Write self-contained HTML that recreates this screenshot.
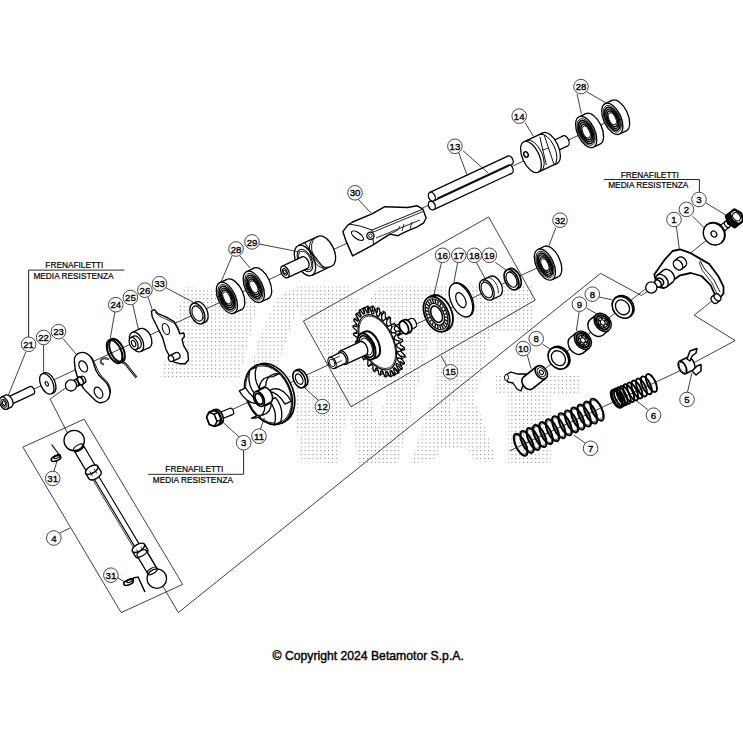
<!DOCTYPE html>
<html><head><meta charset="utf-8"><style>
html,body{margin:0;padding:0;background:#fff;width:743px;height:743px;overflow:hidden}
svg{display:block}
text{font-family:"Liberation Sans",sans-serif;fill:#000}
</style></head><body>
<svg width="743" height="743" viewBox="0 0 743 743">
<defs><pattern id="dots" x="0.45" y="1.65" width="3.9" height="3.9" patternUnits="userSpaceOnUse"><rect x="0" y="0" width="1.1" height="1.1" fill="#888"/></pattern></defs>
<path d="M185,286 L259,298 L239,379 L160,379Z M297,286.5 L440,286.5 L532,286 L532,333 L490,333 L475,400 L497,462 L475,462 L466,449 L440,449 L435,462 L411,463 L398,463 L359,463 L348.6,411 L336.5,463 L300.9,462 L292.8,395 L252,365 L258,341 L276,299Z M496,376 L580,376 L580,393 L551,393 L551,463 L508,463 L508,393 L496,393Z M349.7,286.5 L378.8,286.5 L362,312Z M297,309 L338,375 L275,375Z M367,388 L388,388 L378,426Z M431.8,333 L437,333 L435.8,383 L411,463 L398,463 L415.6,395Z M450,402 L458,402 L454,423Z" fill="url(#dots)" fill-rule="evenodd" stroke="none"/>
<path d="M2.0,404.0 L620.0,116.0" fill="none" stroke="#111" stroke-width="0.8"/>
<path d="M212.0,419.0 L552.0,261.0" fill="none" stroke="#111" stroke-width="0.8"/>
<path d="M509.7,450.8 L690.0,366.0" fill="none" stroke="#111" stroke-width="0.8"/>
<path d="M541.0,372.0 L737.0,216.0" fill="none" stroke="#111" stroke-width="0.8"/>
<path d="M303.4,321.1 L488.7,217.0 L535.2,300.1 L351.0,406.7 L303.4,321.1" fill="none" stroke="#111" stroke-width="0.8"/>
<path d="M22.9,447.1 L84.1,419.2 L182.7,584.4 L121.1,612.6 L22.9,447.1" fill="none" stroke="#111" stroke-width="0.8"/>
<path d="M67.0,387.0 L50.0,399.0 L67.0,432.0" fill="none" stroke="#111" stroke-width="0.8"/>
<path d="M162.6,585.6 L178.3,612.6 L600.6,273.4 L641.3,295.5 L648.0,291.0" fill="none" stroke="#111" stroke-width="0.8"/>
<path d="M712.7,300.4 L694.2,315.2 L735.2,340.6 L691.9,363.8" fill="none" stroke="#111" stroke-width="0.8"/>
<ellipse cx="619.1" cy="115.6" rx="8.7" ry="16.8" transform="rotate(-25 619.1 115.6)" fill="#fff" stroke="#000" stroke-width="1.3" />
<path d="M619.4,134.0 L626.2,130.9 L612.0,100.4 L605.2,103.6Z" fill="#fff" stroke="none"/>
<path d="M619.4,134.0 L626.2,130.9 M612.0,100.4 L605.2,103.6" fill="none" stroke="#000" stroke-width="1.3"/>
<ellipse cx="612.3" cy="118.8" rx="8.7" ry="16.8" transform="rotate(-25 612.3 118.8)" fill="#fff" stroke="#000" stroke-width="1.3" />
<ellipse cx="612.3" cy="118.8" rx="7.5" ry="14.4" transform="rotate(-25 612.3 118.8)" fill="#fff" stroke="#000" stroke-width="0.8" />
<ellipse cx="612.3" cy="118.8" rx="6.5" ry="12.4" transform="rotate(-25 612.3 118.8)" fill="#fff" stroke="#000" stroke-width="1.5" />
<ellipse cx="612.3" cy="118.8" rx="5.4" ry="10.4" transform="rotate(-25 612.3 118.8)" fill="#fff" stroke="#000" stroke-width="1.3" />
<ellipse cx="612.3" cy="118.8" rx="4.4" ry="8.4" transform="rotate(-25 612.3 118.8)" fill="#fff" stroke="#000" stroke-width="1.5" />
<ellipse cx="612.3" cy="118.8" rx="3.3" ry="6.4" transform="rotate(-25 612.3 118.8)" fill="#fff" stroke="#000" stroke-width="1.0" />
<ellipse cx="593.0" cy="128.8" rx="8.7" ry="16.8" transform="rotate(-25 593.0 128.8)" fill="#fff" stroke="#000" stroke-width="1.3" />
<path d="M593.3,147.2 L600.1,144.1 L585.9,113.6 L579.1,116.8Z" fill="#fff" stroke="none"/>
<path d="M593.3,147.2 L600.1,144.1 M585.9,113.6 L579.1,116.8" fill="none" stroke="#000" stroke-width="1.3"/>
<ellipse cx="586.2" cy="132.0" rx="8.7" ry="16.8" transform="rotate(-25 586.2 132.0)" fill="#fff" stroke="#000" stroke-width="1.3" />
<ellipse cx="586.2" cy="132.0" rx="7.5" ry="14.4" transform="rotate(-25 586.2 132.0)" fill="#fff" stroke="#000" stroke-width="0.8" />
<ellipse cx="586.2" cy="132.0" rx="6.5" ry="12.4" transform="rotate(-25 586.2 132.0)" fill="#fff" stroke="#000" stroke-width="1.5" />
<ellipse cx="586.2" cy="132.0" rx="5.4" ry="10.4" transform="rotate(-25 586.2 132.0)" fill="#fff" stroke="#000" stroke-width="1.3" />
<ellipse cx="586.2" cy="132.0" rx="4.4" ry="8.4" transform="rotate(-25 586.2 132.0)" fill="#fff" stroke="#000" stroke-width="1.5" />
<ellipse cx="586.2" cy="132.0" rx="3.3" ry="6.4" transform="rotate(-25 586.2 132.0)" fill="#fff" stroke="#000" stroke-width="1.0" />
<ellipse cx="565.4" cy="140.9" rx="3.3" ry="5.5" transform="rotate(-25 565.4 140.9)" fill="#fff" stroke="#000" stroke-width="1.3" />
<path d="M551.5,153.5 L567.8,145.9 L563.1,136.0 L546.8,143.6Z" fill="#fff" stroke="none"/>
<path d="M551.5,153.5 L567.8,145.9 M563.1,136.0 L546.8,143.6" fill="none" stroke="#000" stroke-width="1.3"/>
<ellipse cx="549.1" cy="148.5" rx="3.3" ry="5.5" transform="rotate(-25 549.1 148.5)" fill="#fff" stroke="#000" stroke-width="1.3" />
<ellipse cx="550.0" cy="148.1" rx="8.4" ry="16.8" transform="rotate(-25 550.0 148.1)" fill="#fff" stroke="#000" stroke-width="1.3" />
<path d="M538.1,172.2 L557.1,163.4 L542.9,132.9 L523.9,141.8Z" fill="#fff" stroke="none"/>
<path d="M538.1,172.2 L557.1,163.4 M542.9,132.9 L523.9,141.8" fill="none" stroke="#000" stroke-width="1.3"/>
<ellipse cx="531.0" cy="157.0" rx="8.4" ry="16.8" transform="rotate(-25 531.0 157.0)" fill="#fff" stroke="#000" stroke-width="1.3" />
<ellipse cx="526.0" cy="154.5" rx="2.1" ry="2.8" transform="rotate(-25 526.0 154.5)" fill="#fff" stroke="#000" stroke-width="1.4" />
<path d="M527.1,140.3 A8.4,16.8 -25 0 1 541.3,170.7" fill="none" stroke="#000" stroke-width="1.0"/>
<path d="M539.8,134.4 A8.4,16.8 -25 0 1 554.0,164.8" fill="none" stroke="#000" stroke-width="1.0"/>
<path d="M539.8,136.9 L546.3,164.9" fill="none" stroke="#111" stroke-width="1.0"/>
<path d="M544.1,134.8 L553.8,163.8" fill="none" stroke="#111" stroke-width="1.0"/>
<path d="M542.0,150.0 L549.0,148.0" fill="none" stroke="#111" stroke-width="0.8"/>
<ellipse cx="509.7" cy="169.2" rx="3.2" ry="4.6" transform="rotate(-25 509.7 169.2)" fill="#fff" stroke="#000" stroke-width="1.3" />
<path d="M433.7,209.7 L511.7,173.3 L507.8,165.0 L429.9,201.3Z" fill="#fff" stroke="none"/>
<path d="M433.7,209.7 L511.7,173.3 M507.8,165.0 L429.9,201.3" fill="none" stroke="#000" stroke-width="1.3"/>
<ellipse cx="431.8" cy="205.5" rx="3.2" ry="4.6" transform="rotate(-25 431.8 205.5)" fill="#fff" stroke="#000" stroke-width="1.3" />
<ellipse cx="509.7" cy="160.3" rx="3.2" ry="4.6" transform="rotate(-25 509.7 160.3)" fill="#fff" stroke="#000" stroke-width="1.3" />
<path d="M433.7,200.8 L511.7,164.4 L507.8,156.1 L429.9,192.4Z" fill="#fff" stroke="none"/>
<path d="M433.7,200.8 L511.7,164.4 M507.8,156.1 L429.9,192.4" fill="none" stroke="#000" stroke-width="1.3"/>
<ellipse cx="431.8" cy="196.6" rx="3.2" ry="4.6" transform="rotate(-25 431.8 196.6)" fill="#fff" stroke="#000" stroke-width="1.3" />
<path d="M437.2,198.5 L509.7,164.7" fill="none" stroke="#111" stroke-width="1.6"/>
<path d="M342.9,231.7 L347.8,225.2 L352.6,222.0 L372.0,213.9 L384.9,206.7 L407.5,207.5 L417.2,205.8 L422.9,209.1 L426.1,218.0 L423.7,222.8 L417.2,226.8 L405.9,231.7 L397.9,235.7 L389.8,234.1 L378.5,241.4 L373.6,244.6 L352.6,255.9 L346.2,241.4Z" fill="#fff" stroke="#000" stroke-width="1.4" stroke-linejoin="round"/>
<path d="M349.0,224.0 L360.0,226.0 L372.0,230.0 L422.0,209.5" fill="none" stroke="#111" stroke-width="1.0"/>
<path d="M372.0,232.5 L423.0,211.5" fill="none" stroke="#111" stroke-width="0.9"/>
<path d="M372.0,230.0 L373.6,244.6" fill="none" stroke="#111" stroke-width="1.0"/>
<path d="M376.0,238.0 L420.0,220.0" fill="none" stroke="#111" stroke-width="0.9"/>
<path d="M390.0,234.0 L398.0,230.0 L400.0,226.0" fill="none" stroke="#111" stroke-width="0.9"/>
<path d="M402.0,231.0 L404.0,224.0" fill="none" stroke="#111" stroke-width="0.9"/>
<path d="M410.0,229.0 L412.0,222.0" fill="none" stroke="#111" stroke-width="0.9"/>
<ellipse cx="357.5" cy="235.7" rx="7" ry="3" transform="rotate(35 357.5 235.7)" fill="#fff" stroke="#000" stroke-width="1.2"/>
<circle cx="370.4" cy="235.7" r="3.6" fill="#fff" stroke="#000" stroke-width="1.3"/>
<circle cx="370.4" cy="235.7" r="1.8" fill="none" stroke="#000" stroke-width="0.9"/>
<ellipse cx="324.9" cy="251.2" rx="9.0" ry="16.3" transform="rotate(-25 324.9 251.2)" fill="#fff" stroke="#000" stroke-width="1.3" />
<path d="M311.9,275.3 L331.8,266.0 L318.1,236.4 L298.1,245.7Z" fill="#fff" stroke="none"/>
<path d="M311.9,275.3 L331.8,266.0 M318.1,236.4 L298.1,245.7" fill="none" stroke="#000" stroke-width="1.3"/>
<ellipse cx="305.0" cy="260.5" rx="9.0" ry="16.3" transform="rotate(-25 305.0 260.5)" fill="#fff" stroke="#000" stroke-width="1.3" />
<ellipse cx="305.0" cy="260.5" rx="6.6" ry="12.0" transform="rotate(-25 305.0 260.5)" fill="#fff" stroke="#000" stroke-width="1.0" />
<ellipse cx="305.0" cy="260.5" rx="5.5" ry="10.0" transform="rotate(-25 305.0 260.5)" fill="#fff" stroke="#000" stroke-width="0.8" />
<path d="M313.6,238.8 A9.6,16 -25 0 0 327.2,267.8" fill="none" stroke="#000" stroke-width="0.9"/>
<path d="M315.5,238.0 A9.6,16 -25 0 0 329.0,267.0" fill="none" stroke="#000" stroke-width="0.9"/>
<path d="M304.6,243.0 L324.5,269.1" fill="none" stroke="#111" stroke-width="1.1"/>
<ellipse cx="304.8" cy="262.6" rx="3.8" ry="6.3" transform="rotate(-25 304.8 262.6)" fill="#fff" stroke="#000" stroke-width="1.3" />
<path d="M287.6,277.6 L307.5,268.3 L302.2,256.9 L282.2,266.2Z" fill="#fff" stroke="none"/>
<path d="M287.6,277.6 L307.5,268.3 M302.2,256.9 L282.2,266.2" fill="none" stroke="#000" stroke-width="1.3"/>
<ellipse cx="284.9" cy="271.9" rx="3.8" ry="6.3" transform="rotate(-25 284.9 271.9)" fill="#fff" stroke="#000" stroke-width="1.3" />
<ellipse cx="284.9" cy="271.9" rx="2.1" ry="3.5" transform="rotate(-25 284.9 271.9)" fill="#fff" stroke="#000" stroke-width="1.1" />
<ellipse cx="284.9" cy="271.9" rx="1.1" ry="1.8" transform="rotate(-25 284.9 271.9)" fill="#fff" stroke="#000" stroke-width="0.9" />
<ellipse cx="261.1" cy="283.4" rx="8.7" ry="16.8" transform="rotate(-25 261.1 283.4)" fill="#fff" stroke="#000" stroke-width="1.3" />
<path d="M260.9,302.0 L268.2,298.6 L254.0,268.2 L246.7,271.6Z" fill="#fff" stroke="none"/>
<path d="M260.9,302.0 L268.2,298.6 M254.0,268.2 L246.7,271.6" fill="none" stroke="#000" stroke-width="1.3"/>
<ellipse cx="253.8" cy="286.8" rx="8.7" ry="16.8" transform="rotate(-25 253.8 286.8)" fill="#fff" stroke="#000" stroke-width="1.3" />
<ellipse cx="253.8" cy="286.8" rx="7.5" ry="14.4" transform="rotate(-25 253.8 286.8)" fill="#fff" stroke="#000" stroke-width="0.8" />
<ellipse cx="253.8" cy="286.8" rx="6.5" ry="12.4" transform="rotate(-25 253.8 286.8)" fill="#fff" stroke="#000" stroke-width="1.5" />
<ellipse cx="253.8" cy="286.8" rx="5.4" ry="10.4" transform="rotate(-25 253.8 286.8)" fill="#fff" stroke="#000" stroke-width="1.3" />
<ellipse cx="253.8" cy="286.8" rx="4.4" ry="8.4" transform="rotate(-25 253.8 286.8)" fill="#fff" stroke="#000" stroke-width="1.5" />
<ellipse cx="253.8" cy="286.8" rx="3.3" ry="6.4" transform="rotate(-25 253.8 286.8)" fill="#fff" stroke="#000" stroke-width="1.0" />
<ellipse cx="234.2" cy="294.5" rx="8.7" ry="16.8" transform="rotate(-25 234.2 294.5)" fill="#fff" stroke="#000" stroke-width="1.3" />
<path d="M234.0,313.1 L241.3,309.7 L227.1,279.3 L219.8,282.7Z" fill="#fff" stroke="none"/>
<path d="M234.0,313.1 L241.3,309.7 M227.1,279.3 L219.8,282.7" fill="none" stroke="#000" stroke-width="1.3"/>
<ellipse cx="226.9" cy="297.9" rx="8.7" ry="16.8" transform="rotate(-25 226.9 297.9)" fill="#fff" stroke="#000" stroke-width="1.3" />
<ellipse cx="226.9" cy="297.9" rx="7.5" ry="14.4" transform="rotate(-25 226.9 297.9)" fill="#fff" stroke="#000" stroke-width="0.8" />
<ellipse cx="226.9" cy="297.9" rx="6.5" ry="12.4" transform="rotate(-25 226.9 297.9)" fill="#fff" stroke="#000" stroke-width="1.5" />
<ellipse cx="226.9" cy="297.9" rx="5.4" ry="10.4" transform="rotate(-25 226.9 297.9)" fill="#fff" stroke="#000" stroke-width="1.3" />
<ellipse cx="226.9" cy="297.9" rx="4.4" ry="8.4" transform="rotate(-25 226.9 297.9)" fill="#fff" stroke="#000" stroke-width="1.5" />
<ellipse cx="226.9" cy="297.9" rx="3.3" ry="6.4" transform="rotate(-25 226.9 297.9)" fill="#fff" stroke="#000" stroke-width="1.0" />
<ellipse cx="200.6" cy="312.1" rx="6.6" ry="11.0" transform="rotate(-25 200.6 312.1)" fill="#fff" stroke="#000" stroke-width="1.3" />
<path d="M202.0,323.6 L205.2,322.1 L195.9,302.2 L192.8,303.6Z" fill="#fff" stroke="none"/>
<path d="M202.0,323.6 L205.2,322.1 M195.9,302.2 L192.8,303.6" fill="none" stroke="#000" stroke-width="1.3"/>
<ellipse cx="197.4" cy="313.6" rx="6.6" ry="11.0" transform="rotate(-25 197.4 313.6)" fill="#fff" stroke="#000" stroke-width="1.3" />
<ellipse cx="197.4" cy="313.6" rx="4.8" ry="8.0" transform="rotate(-25 197.4 313.6)" fill="#fff" stroke="#000" stroke-width="1.1" />
<path d="M194.0,306.3 A4.8,8 -25 0 1 203.3,319.1" fill="none" stroke="#000" stroke-width="0.8"/>
<path d="M151.4,311.2 L154.6,309.6 L157.9,313.6 L165.9,316.8 L174.0,321.7 L178.0,328.2 L179.7,333.8 L183.7,333.0 L184.5,336.2 L182.1,339.5 L183.7,345.9 L187.7,352.4 L188.5,359.7 L185.3,363.7 L179.7,363.7 L174.0,362.1 L170.0,357.2 L165.9,349.2 L162.7,337.9 L157.0,326.5 L152.2,316.8Z" fill="#fff" stroke="#000" stroke-width="1.4" stroke-linejoin="round"/>
<path d="M155.0,312.0 L159.0,316.0 L168.0,320.0 L175.0,324.0 L179.5,333.0" fill="none" stroke="#111" stroke-width="0.8"/>
<ellipse cx="165.9" cy="329" rx="3.2" ry="5.8" transform="rotate(-20 165.9 329)" fill="#fff" stroke="#000" stroke-width="1.1"/>
<ellipse cx="177.3" cy="355.5" rx="2.6" ry="3.2" transform="rotate(-25 177.3 355.5)" fill="#fff" stroke="#000" stroke-width="1.2" />
<path d="M172.4,361.4 L178.7,358.4 L176.0,352.6 L169.6,355.6Z" fill="#fff" stroke="none"/>
<path d="M172.4,361.4 L178.7,358.4 M176.0,352.6 L169.6,355.6" fill="none" stroke="#000" stroke-width="1.2"/>
<ellipse cx="171.0" cy="358.5" rx="2.6" ry="3.2" transform="rotate(-25 171.0 358.5)" fill="#fff" stroke="#000" stroke-width="1.2" />
<ellipse cx="144.7" cy="338.2" rx="6.3" ry="10.5" transform="rotate(-25 144.7 338.2)" fill="#fff" stroke="#000" stroke-width="1.3" />
<path d="M140.9,351.5 L149.1,347.7 L140.2,328.7 L132.1,332.5Z" fill="#fff" stroke="none"/>
<path d="M140.9,351.5 L149.1,347.7 M140.2,328.7 L132.1,332.5" fill="none" stroke="#000" stroke-width="1.3"/>
<ellipse cx="136.5" cy="342.0" rx="6.3" ry="10.5" transform="rotate(-25 136.5 342.0)" fill="#fff" stroke="#000" stroke-width="1.3" />
<ellipse cx="136.8" cy="342.0" rx="3.9" ry="6.5" transform="rotate(-25 136.8 342.0)" fill="#fff" stroke="#000" stroke-width="1.2" />
<path d="M136.3,349.4 L139.5,347.9 L134.0,336.1 L130.9,337.6Z" fill="#fff" stroke="none"/>
<path d="M136.3,349.4 L139.5,347.9 M134.0,336.1 L130.9,337.6" fill="none" stroke="#000" stroke-width="1.2"/>
<ellipse cx="133.6" cy="343.5" rx="3.9" ry="6.5" transform="rotate(-25 133.6 343.5)" fill="#fff" stroke="#000" stroke-width="1.2" />
<ellipse cx="133.6" cy="343.5" rx="1.9" ry="3.2" transform="rotate(-25 133.6 343.5)" fill="#fff" stroke="#000" stroke-width="1.1" />
<path d="M109,359.5 C106,358 103,357.5 101,360 C100,362 101,364 104,364.5" fill="none" stroke="#000" stroke-width="1.8"/>
<path d="M109,359.5 C106,358 103,357.5 101,360 C100,362 101,364 104,364.5" fill="none" stroke="#fff" stroke-width="0.5"/>
<path d="M121.5,362.5 C124,362 126,364 128,367 L136.5,377.5" fill="none" stroke="#000" stroke-width="2.3"/>
<path d="M121.5,362.5 C124,362 126,364 128,367 L136.5,377.5" fill="none" stroke="#fff" stroke-width="0.6"/>
<ellipse cx="114.6" cy="351.5" rx="6.7" ry="12.8" transform="rotate(-25 114.6 351.5)" fill="none" stroke="#000" stroke-width="1.5" />
<ellipse cx="114.6" cy="351.5" rx="6.0" ry="11.6" transform="rotate(-25 114.6 351.5)" fill="none" stroke="#000" stroke-width="0.9" />
<ellipse cx="117.0" cy="350.4" rx="6.7" ry="12.8" transform="rotate(-25 117.0 350.4)" fill="none" stroke="#000" stroke-width="1.5" />
<ellipse cx="117.0" cy="350.4" rx="6.0" ry="11.6" transform="rotate(-25 117.0 350.4)" fill="none" stroke="#000" stroke-width="0.9" />
<path d="M81.9,352.4 C76,353 73.5,357 74.4,362 L75.3,369.5 L77.5,377.4 L83.6,388.7 L94.1,399.2 C97,402 99,403 101.1,402.7 C106,402 109.5,399 109.9,394 C110.5,390 108,384 105.5,381.7 L98.5,374.7 C96.5,372 95.5,370 95,367.7 L92.4,359.9 C91,356 86,352 81.9,352.4Z" fill="#fff" stroke="#000" stroke-width="1.4"/>
<path d="M86.5,353.6 C90,355 92.5,358 94,361.5 L97,368.5 C98,371.5 100,374 102,376.5 L106.5,381 C109,384 111,388 110.5,393" fill="none" stroke="#000" stroke-width="0.9"/>
<ellipse cx="83.2" cy="366.4" rx="3.8" ry="6" transform="rotate(-28 83.2 366.4)" fill="#fff" stroke="#000" stroke-width="1.2"/>
<ellipse cx="98.5" cy="392.7" rx="3.8" ry="6" transform="rotate(-28 98.5 392.7)" fill="#fff" stroke="#000" stroke-width="1.2"/>
<ellipse cx="83.3" cy="379.6" rx="2.2" ry="3.6" transform="rotate(-25 83.3 379.6)" fill="#fff" stroke="#000" stroke-width="1.2" />
<path d="M77.5,386.3 L84.8,382.9 L81.7,376.4 L74.5,379.7Z" fill="#fff" stroke="none"/>
<path d="M77.5,386.3 L84.8,382.9 M81.7,376.4 L74.5,379.7" fill="none" stroke="#000" stroke-width="1.2"/>
<ellipse cx="76.0" cy="383.0" rx="2.2" ry="3.6" transform="rotate(-25 76.0 383.0)" fill="#fff" stroke="#000" stroke-width="1.2" />
<ellipse cx="80.5" cy="380.9" rx="2.5" ry="4.2" transform="rotate(-25 80.5 380.9)" fill="#fff" stroke="#000" stroke-width="1.6" />
<circle cx="71" cy="385.4" r="5.6" fill="#fff" stroke="#000" stroke-width="1.3"/>
<ellipse cx="48.8" cy="382.9" rx="6.1" ry="11.0" transform="rotate(-25 48.8 382.9)" fill="#fff" stroke="#000" stroke-width="1.3" />
<path d="M51.4,393.8 L53.4,392.8 L44.1,372.9 L42.2,373.8Z" fill="#fff" stroke="none"/>
<path d="M51.4,393.8 L53.4,392.8 M44.1,372.9 L42.2,373.8" fill="none" stroke="#000" stroke-width="1.3"/>
<ellipse cx="46.8" cy="383.8" rx="6.1" ry="11.0" transform="rotate(-25 46.8 383.8)" fill="#fff" stroke="#000" stroke-width="1.3" />
<ellipse cx="46.8" cy="383.8" rx="1.4" ry="2.4" transform="rotate(-25 46.8 383.8)" fill="#fff" stroke="#000" stroke-width="1.1" />
<ellipse cx="31.7" cy="390.4" rx="2.5" ry="4.1" transform="rotate(-25 31.7 390.4)" fill="#fff" stroke="#000" stroke-width="1.3" />
<path d="M10.7,404.7 L33.4,394.2 L29.9,386.7 L7.3,397.3Z" fill="#fff" stroke="none"/>
<path d="M10.7,404.7 L33.4,394.2 M29.9,386.7 L7.3,397.3" fill="none" stroke="#000" stroke-width="1.3"/>
<ellipse cx="9.0" cy="401.0" rx="2.5" ry="4.1" transform="rotate(-25 9.0 401.0)" fill="#fff" stroke="#000" stroke-width="1.3" />
<ellipse cx="8.5" cy="401.1" rx="4.0" ry="6.6" transform="rotate(-25 8.5 401.1)" fill="#fff" stroke="#000" stroke-width="1.3" />
<path d="M6.8,409.2 L11.3,407.1 L5.7,395.1 L1.2,397.2Z" fill="#fff" stroke="none"/>
<path d="M6.8,409.2 L11.3,407.1 M5.7,395.1 L1.2,397.2" fill="none" stroke="#000" stroke-width="1.3"/>
<ellipse cx="4.0" cy="403.2" rx="4.0" ry="6.6" transform="rotate(-25 4.0 403.2)" fill="#fff" stroke="#000" stroke-width="1.3" />
<ellipse cx="4.0" cy="403.2" rx="2.5" ry="4.2" transform="rotate(-25 4.0 403.2)" fill="#fff" stroke="#000" stroke-width="0.9" />
<ellipse cx="4.0" cy="403.2" rx="1.4" ry="2.4" transform="rotate(-25 4.0 403.2)" fill="#fff" stroke="#000" stroke-width="1.1" />
<ellipse cx="551.2" cy="261.6" rx="8.7" ry="16.7" transform="rotate(-25 551.2 261.6)" fill="#fff" stroke="#000" stroke-width="1.3" />
<path d="M552.0,279.7 L558.3,276.8 L544.2,246.5 L537.8,249.5Z" fill="#fff" stroke="none"/>
<path d="M552.0,279.7 L558.3,276.8 M544.2,246.5 L537.8,249.5" fill="none" stroke="#000" stroke-width="1.3"/>
<ellipse cx="544.9" cy="264.6" rx="8.7" ry="16.7" transform="rotate(-25 544.9 264.6)" fill="#fff" stroke="#000" stroke-width="1.3" />
<ellipse cx="544.9" cy="264.6" rx="7.5" ry="14.4" transform="rotate(-25 544.9 264.6)" fill="#fff" stroke="#000" stroke-width="0.8" />
<ellipse cx="544.9" cy="264.6" rx="6.4" ry="12.4" transform="rotate(-25 544.9 264.6)" fill="#fff" stroke="#000" stroke-width="1.5" />
<ellipse cx="544.9" cy="264.6" rx="5.4" ry="10.4" transform="rotate(-25 544.9 264.6)" fill="#fff" stroke="#000" stroke-width="1.3" />
<ellipse cx="544.9" cy="264.6" rx="4.3" ry="8.3" transform="rotate(-25 544.9 264.6)" fill="#fff" stroke="#000" stroke-width="1.5" />
<ellipse cx="544.9" cy="264.6" rx="3.3" ry="6.3" transform="rotate(-25 544.9 264.6)" fill="#fff" stroke="#000" stroke-width="1.0" />
<ellipse cx="513.8" cy="278.6" rx="6.5" ry="10.8" transform="rotate(-25 513.8 278.6)" fill="#fff" stroke="#000" stroke-width="1.6" />
<path d="M516.1,289.5 L518.3,288.4 L509.2,268.9 L506.9,269.9Z" fill="#fff" stroke="none"/>
<path d="M516.1,289.5 L518.3,288.4 M509.2,268.9 L506.9,269.9" fill="none" stroke="#000" stroke-width="1.6"/>
<ellipse cx="511.5" cy="279.7" rx="6.5" ry="10.8" transform="rotate(-25 511.5 279.7)" fill="#fff" stroke="#000" stroke-width="1.6" />
<ellipse cx="511.5" cy="279.7" rx="4.8" ry="8.0" transform="rotate(-25 511.5 279.7)" fill="#fff" stroke="#000" stroke-width="1.2" />
<path d="M508.1,272.4 A4.8,8 -25 0 1 516.9,285.4" fill="none" stroke="#000" stroke-width="0.8"/>
<ellipse cx="495.0" cy="286.2" rx="6.5" ry="10.8" transform="rotate(-25 495.0 286.2)" fill="#fff" stroke="#000" stroke-width="1.3" />
<path d="M491.4,299.8 L499.5,296.0 L490.4,276.4 L482.2,280.2Z" fill="#fff" stroke="none"/>
<path d="M491.4,299.8 L499.5,296.0 M490.4,276.4 L482.2,280.2" fill="none" stroke="#000" stroke-width="1.3"/>
<ellipse cx="486.8" cy="290.0" rx="6.5" ry="10.8" transform="rotate(-25 486.8 290.0)" fill="#fff" stroke="#000" stroke-width="1.3" />
<ellipse cx="486.8" cy="290.0" rx="5.0" ry="8.3" transform="rotate(-25 486.8 290.0)" fill="#fff" stroke="#000" stroke-width="1.1" />
<path d="M483.3,282.5 A5,8.3 -25 0 1 498.3,293.3" fill="none" stroke="#000" stroke-width="0.8"/>
<ellipse cx="462.0" cy="299.6" rx="9.9" ry="18.0" transform="rotate(-25 462.0 299.6)" fill="#fff" stroke="#000" stroke-width="1.3" />
<path d="M468.5,316.4 L469.6,315.9 L454.4,283.3 L453.3,283.8Z" fill="#fff" stroke="none"/>
<path d="M468.5,316.4 L469.6,315.9 M454.4,283.3 L453.3,283.8" fill="none" stroke="#000" stroke-width="1.3"/>
<ellipse cx="460.9" cy="300.1" rx="9.9" ry="18.0" transform="rotate(-25 460.9 300.1)" fill="#fff" stroke="#000" stroke-width="1.3" />
<ellipse cx="460.9" cy="300.1" rx="4.4" ry="8.0" transform="rotate(-25 460.9 300.1)" fill="#fff" stroke="#000" stroke-width="1.2" />
<ellipse cx="439.8" cy="312.7" rx="11.6" ry="18.7" transform="rotate(-25 439.8 312.7)" fill="#fff" stroke="#000" stroke-width="1.8" />
<path d="M444.5,331.1 L447.7,329.7 L431.9,295.8 L428.7,297.3Z" fill="#fff" stroke="none"/>
<path d="M444.5,331.1 L447.7,329.7 M431.9,295.8 L428.7,297.3" fill="none" stroke="#000" stroke-width="1.8"/>
<ellipse cx="436.6" cy="314.2" rx="11.6" ry="18.7" transform="rotate(-25 436.6 314.2)" fill="#fff" stroke="#000" stroke-width="1.8" />
<ellipse cx="436.6" cy="314.2" rx="9.9" ry="16.5" transform="rotate(-25 436.6 314.2)" fill="#fff" stroke="#000" stroke-width="1.0" />
<ellipse cx="436.6" cy="314.2" rx="6.9" ry="11.5" transform="rotate(-25 436.6 314.2)" fill="#fff" stroke="#000" stroke-width="1.2" />
<ellipse cx="436.6" cy="314.2" rx="5.2" ry="8.7" transform="rotate(-25 436.6 314.2)" fill="#fff" stroke="#000" stroke-width="1.6" />
<path d="M443.2,311.1 L445.7,310.0" fill="none" stroke="#111" stroke-width="1.4"/>
<path d="M444.3,314.0 L447.2,313.9" fill="none" stroke="#111" stroke-width="1.4"/>
<path d="M444.8,316.9 L447.9,317.9" fill="none" stroke="#111" stroke-width="1.4"/>
<path d="M444.8,319.6 L447.9,321.6" fill="none" stroke="#111" stroke-width="1.4"/>
<path d="M444.2,321.9 L447.1,324.8" fill="none" stroke="#111" stroke-width="1.4"/>
<path d="M443.1,323.7 L445.6,327.3" fill="none" stroke="#111" stroke-width="1.4"/>
<path d="M441.6,324.9 L443.4,328.9" fill="none" stroke="#111" stroke-width="1.4"/>
<path d="M439.7,325.3 L440.9,329.5" fill="none" stroke="#111" stroke-width="1.4"/>
<path d="M437.6,325.0 L438.0,329.0" fill="none" stroke="#111" stroke-width="1.4"/>
<path d="M435.4,323.9 L435.0,327.6" fill="none" stroke="#111" stroke-width="1.4"/>
<path d="M433.4,322.2 L432.1,325.2" fill="none" stroke="#111" stroke-width="1.4"/>
<path d="M431.5,320.0 L429.6,322.1" fill="none" stroke="#111" stroke-width="1.4"/>
<path d="M430.0,317.3 L427.5,318.4" fill="none" stroke="#111" stroke-width="1.4"/>
<path d="M428.9,314.4 L426.0,314.5" fill="none" stroke="#111" stroke-width="1.4"/>
<path d="M428.4,311.5 L425.3,310.5" fill="none" stroke="#111" stroke-width="1.4"/>
<path d="M428.4,308.8 L425.3,306.8" fill="none" stroke="#111" stroke-width="1.4"/>
<path d="M429.0,306.5 L426.1,303.6" fill="none" stroke="#111" stroke-width="1.4"/>
<path d="M430.1,304.7 L427.6,301.1" fill="none" stroke="#111" stroke-width="1.4"/>
<path d="M431.6,303.5 L429.8,299.5" fill="none" stroke="#111" stroke-width="1.4"/>
<path d="M433.5,303.1 L432.3,298.9" fill="none" stroke="#111" stroke-width="1.4"/>
<path d="M435.6,303.4 L435.2,299.4" fill="none" stroke="#111" stroke-width="1.4"/>
<path d="M437.8,304.5 L438.2,300.8" fill="none" stroke="#111" stroke-width="1.4"/>
<path d="M439.8,306.2 L441.1,303.2" fill="none" stroke="#111" stroke-width="1.4"/>
<path d="M441.7,308.4 L443.6,306.3" fill="none" stroke="#111" stroke-width="1.4"/>
<ellipse cx="413.0" cy="323.0" rx="3.0" ry="5.0" transform="rotate(-25 413.0 323.0)" fill="#fff" stroke="#000" stroke-width="1.3" />
<path d="M398.8,335.1 L415.1,327.5 L410.9,318.5 L394.6,326.1Z" fill="#fff" stroke="none"/>
<path d="M398.8,335.1 L415.1,327.5 M410.9,318.5 L394.6,326.1" fill="none" stroke="#000" stroke-width="1.3"/>
<ellipse cx="396.7" cy="330.6" rx="3.0" ry="5.0" transform="rotate(-25 396.7 330.6)" fill="#fff" stroke="#000" stroke-width="1.3" />
<ellipse cx="407.2" cy="326.0" rx="4.1" ry="6.8" transform="rotate(-25 407.2 326.0)" fill="#fff" stroke="#000" stroke-width="1.8" />
<path d="M406.9,333.7 L410.0,332.2 L404.3,319.9 L401.1,321.3Z" fill="#fff" stroke="none"/>
<path d="M406.9,333.7 L410.0,332.2 M404.3,319.9 L401.1,321.3" fill="none" stroke="#000" stroke-width="1.8"/>
<ellipse cx="404.0" cy="327.5" rx="4.1" ry="6.8" transform="rotate(-25 404.0 327.5)" fill="#fff" stroke="#000" stroke-width="1.8" />
<path d="M395.6,331.1 L398.9,331.0 L399.8,333.0 L397.6,335.5 L398.6,338.1 L402.3,339.3 L402.9,341.3 L400.0,342.6 L400.6,345.2 L404.4,347.6 L404.7,349.6 L401.3,349.6 L401.5,352.0 L405.1,355.5 L405.1,357.3 L401.4,356.0 L401.2,358.2 L404.4,362.6 L404.1,364.1 L400.3,361.6 L399.7,363.3 L402.4,368.3 L401.7,369.5 L398.1,365.9 L397.1,367.2 L399.1,372.5 L398.2,373.2 L394.9,368.8 L393.5,369.4 L394.8,374.8 L393.6,375.1 L390.9,370.0 L389.3,370.1 L389.7,375.1 L388.3,374.9 L386.3,369.6 L384.5,369.0 L384.0,373.4 L382.6,372.7 L381.4,367.4 L379.6,366.2 L378.2,369.8 L376.8,368.7 L376.4,363.7 L374.7,362.0 L372.5,364.5 L371.2,363.1 L371.8,358.6 L370.2,356.5 L367.3,357.9 L366.2,356.1 L367.6,352.5 L366.3,350.1 L362.9,350.2 L362.0,348.2 L364.2,345.7 L363.3,343.2 L359.6,341.9 L359.0,339.9 L361.8,338.6 L361.2,336.1 L357.5,333.6 L357.2,331.7 L360.5,331.6 L360.4,329.2 L356.7,325.7 L356.8,323.9 L360.4,325.2 L360.7,323.0 L357.4,318.7 L357.8,317.1 L361.5,319.6 L362.2,317.9 L359.4,312.9 L360.1,311.7 L363.7,315.3 L364.8,314.1 L362.7,308.7 L363.7,308.0 L366.9,312.4 L368.3,311.8 L367.0,306.4 L368.2,306.2 L371.0,311.2 L372.6,311.2 L372.2,306.1 L373.5,306.3 L375.6,311.7 L377.3,312.3 L377.8,307.8 L379.2,308.5 L380.5,313.8 L382.3,315.0 L383.7,311.4 L385.1,312.5 L385.4,317.5 L387.1,319.2 L389.3,316.7 L390.6,318.2 L390.1,322.6 L391.7,324.7 L394.5,323.4 L395.7,325.1 L394.2,328.7Z" fill="#fff" stroke="#000" stroke-width="1.2" stroke-linejoin="round"/>
<path d="M395.3,332.7 L398.9,331.0" fill="none" stroke="#111" stroke-width="0.9"/>
<path d="M396.2,334.7 L399.8,333.0" fill="none" stroke="#111" stroke-width="0.9"/>
<path d="M398.6,341.0 L402.3,339.3" fill="none" stroke="#111" stroke-width="0.9"/>
<path d="M399.3,343.0 L402.9,341.3" fill="none" stroke="#111" stroke-width="0.9"/>
<path d="M400.7,349.3 L404.4,347.6" fill="none" stroke="#111" stroke-width="0.9"/>
<path d="M401.0,351.2 L404.7,349.6" fill="none" stroke="#111" stroke-width="0.9"/>
<path d="M401.5,357.2 L405.1,355.5" fill="none" stroke="#111" stroke-width="0.9"/>
<path d="M401.4,359.0 L405.1,357.3" fill="none" stroke="#111" stroke-width="0.9"/>
<path d="M400.8,364.2 L404.4,362.6" fill="none" stroke="#111" stroke-width="0.9"/>
<path d="M400.5,365.8 L404.1,364.1" fill="none" stroke="#111" stroke-width="0.9"/>
<path d="M398.8,370.0 L402.4,368.3" fill="none" stroke="#111" stroke-width="0.9"/>
<path d="M398.1,371.2 L401.7,369.5" fill="none" stroke="#111" stroke-width="0.9"/>
<path d="M395.5,374.2 L399.1,372.5" fill="none" stroke="#111" stroke-width="0.9"/>
<path d="M394.6,374.9 L398.2,373.2" fill="none" stroke="#111" stroke-width="0.9"/>
<path d="M391.2,376.5 L394.8,374.8" fill="none" stroke="#111" stroke-width="0.9"/>
<path d="M390.0,376.7 L393.6,375.1" fill="none" stroke="#111" stroke-width="0.9"/>
<path d="M386.0,376.8 L389.7,375.1" fill="none" stroke="#111" stroke-width="0.9"/>
<path d="M384.7,376.6 L388.3,374.9" fill="none" stroke="#111" stroke-width="0.9"/>
<path d="M380.4,375.1 L384.0,373.4" fill="none" stroke="#111" stroke-width="0.9"/>
<path d="M379.0,374.4 L382.6,372.7" fill="none" stroke="#111" stroke-width="0.9"/>
<path d="M374.6,371.5 L378.2,369.8" fill="none" stroke="#111" stroke-width="0.9"/>
<path d="M373.2,370.4 L376.8,368.7" fill="none" stroke="#111" stroke-width="0.9"/>
<path d="M368.9,366.2 L372.5,364.5" fill="none" stroke="#111" stroke-width="0.9"/>
<path d="M367.6,364.7 L371.2,363.1" fill="none" stroke="#111" stroke-width="0.9"/>
<path d="M363.7,359.6 L367.3,357.9" fill="none" stroke="#111" stroke-width="0.9"/>
<path d="M362.6,357.8 L366.2,356.1" fill="none" stroke="#111" stroke-width="0.9"/>
<path d="M359.3,351.9 L362.9,350.2" fill="none" stroke="#111" stroke-width="0.9"/>
<path d="M358.4,349.9 L362.0,348.2" fill="none" stroke="#111" stroke-width="0.9"/>
<path d="M356.0,343.6 L359.6,341.9" fill="none" stroke="#111" stroke-width="0.9"/>
<path d="M355.3,341.6 L359.0,339.9" fill="none" stroke="#111" stroke-width="0.9"/>
<path d="M353.9,335.3 L357.5,333.6" fill="none" stroke="#111" stroke-width="0.9"/>
<path d="M353.6,333.4 L357.2,331.7" fill="none" stroke="#111" stroke-width="0.9"/>
<path d="M353.1,327.4 L356.7,325.7" fill="none" stroke="#111" stroke-width="0.9"/>
<path d="M353.2,325.6 L356.8,323.9" fill="none" stroke="#111" stroke-width="0.9"/>
<path d="M353.8,320.4 L357.4,318.7" fill="none" stroke="#111" stroke-width="0.9"/>
<path d="M354.1,318.8 L357.8,317.1" fill="none" stroke="#111" stroke-width="0.9"/>
<path d="M355.8,314.6 L359.4,312.9" fill="none" stroke="#111" stroke-width="0.9"/>
<path d="M356.5,313.4 L360.1,311.7" fill="none" stroke="#111" stroke-width="0.9"/>
<path d="M359.1,310.4 L362.7,308.7" fill="none" stroke="#111" stroke-width="0.9"/>
<path d="M360.0,309.7 L363.7,308.0" fill="none" stroke="#111" stroke-width="0.9"/>
<path d="M363.4,308.1 L367.0,306.4" fill="none" stroke="#111" stroke-width="0.9"/>
<path d="M364.6,307.9 L368.2,306.2" fill="none" stroke="#111" stroke-width="0.9"/>
<path d="M368.6,307.8 L372.2,306.1" fill="none" stroke="#111" stroke-width="0.9"/>
<path d="M369.9,308.0 L373.5,306.3" fill="none" stroke="#111" stroke-width="0.9"/>
<path d="M374.2,309.5 L377.8,307.8" fill="none" stroke="#111" stroke-width="0.9"/>
<path d="M375.6,310.2 L379.2,308.5" fill="none" stroke="#111" stroke-width="0.9"/>
<path d="M380.0,313.1 L383.7,311.4" fill="none" stroke="#111" stroke-width="0.9"/>
<path d="M381.4,314.2 L385.1,312.5" fill="none" stroke="#111" stroke-width="0.9"/>
<path d="M385.7,318.4 L389.3,316.7" fill="none" stroke="#111" stroke-width="0.9"/>
<path d="M387.0,319.9 L390.6,318.2" fill="none" stroke="#111" stroke-width="0.9"/>
<path d="M390.9,325.0 L394.5,323.4" fill="none" stroke="#111" stroke-width="0.9"/>
<path d="M392.0,326.8 L395.7,325.1" fill="none" stroke="#111" stroke-width="0.9"/>
<path d="M391.9,332.8 L395.3,332.7 L396.2,334.7 L394.0,337.2 L395.0,339.7 L398.6,341.0 L399.3,343.0 L396.4,344.3 L397.0,346.8 L400.7,349.3 L401.0,351.2 L397.7,351.3 L397.9,353.7 L401.5,357.2 L401.4,359.0 L397.8,357.7 L397.5,359.9 L400.8,364.2 L400.5,365.8 L396.7,363.3 L396.0,365.0 L398.8,370.0 L398.1,371.2 L394.5,367.6 L393.4,368.8 L395.5,374.2 L394.6,374.9 L391.3,370.5 L389.9,371.1 L391.2,376.5 L390.0,376.7 L387.3,371.7 L385.7,371.8 L386.0,376.8 L384.7,376.6 L382.7,371.2 L380.9,370.7 L380.4,375.1 L379.0,374.4 L377.7,369.1 L376.0,367.9 L374.6,371.5 L373.2,370.4 L372.8,365.4 L371.1,363.7 L368.9,366.2 L367.6,364.7 L368.1,360.3 L366.6,358.2 L363.7,359.6 L362.6,357.8 L364.0,354.2 L362.7,351.8 L359.3,351.9 L358.4,349.9 L360.6,347.4 L359.6,344.9 L356.0,343.6 L355.3,341.6 L358.2,340.3 L357.6,337.8 L353.9,335.3 L353.6,333.4 L356.9,333.3 L356.7,330.9 L353.1,327.4 L353.2,325.6 L356.8,326.9 L357.1,324.7 L353.8,320.4 L354.1,318.8 L357.9,321.3 L358.6,319.6 L355.8,314.6 L356.5,313.4 L360.1,317.0 L361.2,315.8 L359.1,310.4 L360.0,309.7 L363.3,314.1 L364.7,313.5 L363.4,308.1 L364.6,307.9 L367.3,312.9 L368.9,312.8 L368.6,307.8 L369.9,308.0 L371.9,313.4 L373.7,313.9 L374.2,309.5 L375.6,310.2 L376.9,315.5 L378.6,316.7 L380.0,313.1 L381.4,314.2 L381.8,319.2 L383.5,320.9 L385.7,318.4 L387.0,319.9 L386.5,324.3 L388.0,326.4 L390.9,325.0 L392.0,326.8 L390.6,330.4Z" fill="#fff" stroke="#000" stroke-width="1.3" stroke-linejoin="round"/>
<ellipse cx="377.3" cy="342.3" rx="16.2" ry="29.5" transform="rotate(-25 377.3 342.3)" fill="#fff" stroke="#000" stroke-width="1.2" />
<ellipse cx="377.3" cy="342.3" rx="15.4" ry="28.0" transform="rotate(-25 377.3 342.3)" fill="none" stroke="#000" stroke-width="0.7" />
<ellipse cx="371.0" cy="344.4" rx="7.7" ry="14.0" transform="rotate(-25 371.0 344.4)" fill="#fff" stroke="#000" stroke-width="2.0" />
<path d="M372.4,359.2 L376.9,357.1 L365.1,331.7 L360.6,333.8Z" fill="#fff" stroke="none"/>
<path d="M372.4,359.2 L376.9,357.1 M365.1,331.7 L360.6,333.8" fill="none" stroke="#000" stroke-width="2.0"/>
<ellipse cx="366.5" cy="346.5" rx="7.7" ry="14.0" transform="rotate(-25 366.5 346.5)" fill="#fff" stroke="#000" stroke-width="2.0" />
<ellipse cx="366.5" cy="346.5" rx="6.3" ry="11.5" transform="rotate(-25 366.5 346.5)" fill="#fff" stroke="#000" stroke-width="1.6" />
<ellipse cx="366.5" cy="346.5" rx="5.0" ry="9.0" transform="rotate(-25 366.5 346.5)" fill="#fff" stroke="#000" stroke-width="1.0" />
<ellipse cx="362.9" cy="348.3" rx="4.3" ry="7.2" transform="rotate(-25 362.9 348.3)" fill="#fff" stroke="#000" stroke-width="1.3" />
<path d="M346.0,364.1 L366.0,354.8 L359.9,341.8 L340.0,351.1Z" fill="#fff" stroke="none"/>
<path d="M346.0,364.1 L366.0,354.8 M359.9,341.8 L340.0,351.1" fill="none" stroke="#000" stroke-width="1.3"/>
<ellipse cx="343.0" cy="357.6" rx="4.3" ry="7.2" transform="rotate(-25 343.0 357.6)" fill="#fff" stroke="#000" stroke-width="1.3" />
<ellipse cx="342.1" cy="358.3" rx="3.6" ry="6.0" transform="rotate(-25 342.1 358.3)" fill="#fff" stroke="#000" stroke-width="1.3" />
<path d="M334.6,368.3 L344.6,363.7 L339.5,352.8 L329.6,357.5Z" fill="#fff" stroke="none"/>
<path d="M334.6,368.3 L344.6,363.7 M339.5,352.8 L329.6,357.5" fill="none" stroke="#000" stroke-width="1.3"/>
<ellipse cx="332.1" cy="362.9" rx="3.6" ry="6.0" transform="rotate(-25 332.1 362.9)" fill="#fff" stroke="#000" stroke-width="1.3" />
<ellipse cx="332.1" cy="362.9" rx="2.4" ry="4.0" transform="rotate(-25 332.1 362.9)" fill="#fff" stroke="#000" stroke-width="0.8" />
<path d="M331.7,359.8 L339.9,356.0" fill="none" stroke="#111" stroke-width="0.8"/>
<path d="M333.9,364.3 L342.0,360.5" fill="none" stroke="#111" stroke-width="0.8"/>
<ellipse cx="301.5" cy="378.0" rx="5.6" ry="9.3" transform="rotate(-25 301.5 378.0)" fill="#fff" stroke="#000" stroke-width="1.6" />
<path d="M303.1,387.5 L305.4,386.5 L297.5,369.6 L295.3,370.7Z" fill="#fff" stroke="none"/>
<path d="M303.1,387.5 L305.4,386.5 M297.5,369.6 L295.3,370.7" fill="none" stroke="#000" stroke-width="1.6"/>
<ellipse cx="299.2" cy="379.1" rx="5.6" ry="9.3" transform="rotate(-25 299.2 379.1)" fill="#fff" stroke="#000" stroke-width="1.6" />
<ellipse cx="299.2" cy="379.1" rx="3.3" ry="5.5" transform="rotate(-25 299.2 379.1)" fill="#fff" stroke="#000" stroke-width="1.2" />
<ellipse cx="270.8" cy="393.4" rx="22.0" ry="31.5" transform="rotate(-25 270.8 393.4)" fill="#fff" stroke="#000" stroke-width="1.6" />
<path d="M281.8,423.0 L284.1,422.0 L257.5,364.9 L255.2,366.0Z" fill="#fff" stroke="none"/>
<path d="M281.8,423.0 L284.1,422.0 M257.5,364.9 L255.2,366.0" fill="none" stroke="#000" stroke-width="1.6"/>
<ellipse cx="268.5" cy="394.5" rx="22.0" ry="31.5" transform="rotate(-25 268.5 394.5)" fill="#fff" stroke="#000" stroke-width="1.6" />
<ellipse cx="268.5" cy="394.5" rx="21.0" ry="30.0" transform="rotate(-25 268.5 394.5)" fill="none" stroke="#000" stroke-width="0.8" />
<path d="M271.3,403.0 L270.8,407.1 L269.2,410.7 L266.4,413.5 L262.6,415.1 L257.8,415.3 L251.5,418.2 L256.2,418.0 L260.1,416.4 L262.9,413.7 L264.5,410.0 L264.9,406.0Z" fill="#fff" stroke="#000" stroke-width="1.3" stroke-linejoin="round"/>
<path d="M264.4,399.8 L261.2,400.4 L257.4,399.5 L253.3,397.1 L249.3,393.1 L245.6,387.8 L239.3,390.8 L242.9,396.1 L247.0,400.0 L251.0,402.4 L254.8,403.3 L258.1,402.8Z" fill="#fff" stroke="#000" stroke-width="1.3" stroke-linejoin="round"/>
<path d="M261.7,391.3 L258.9,387.8 L256.7,383.3 L255.4,378.1 L255.2,372.5 L256.3,367.1 L250.0,370.0 L248.9,375.5 L249.1,381.0 L250.3,386.2 L252.5,390.7 L255.3,394.3Z" fill="#fff" stroke="#000" stroke-width="1.3" stroke-linejoin="round"/>
<path d="M265.7,386.0 L266.2,381.9 L267.8,378.3 L270.6,375.5 L274.4,373.9 L279.2,373.7 L272.9,376.7 L268.1,376.9 L264.2,378.5 L261.5,381.3 L259.8,384.9 L259.4,389.0Z" fill="#fff" stroke="#000" stroke-width="1.3" stroke-linejoin="round"/>
<path d="M272.6,389.2 L275.8,388.6 L279.6,389.5 L283.7,391.9 L287.7,395.9 L291.4,401.2 L285.0,404.1 L281.4,398.8 L277.3,394.9 L273.3,392.5 L269.5,391.6 L266.2,392.2Z" fill="#fff" stroke="#000" stroke-width="1.3" stroke-linejoin="round"/>
<path d="M275.3,397.7 L278.1,401.2 L280.3,405.7 L281.6,410.9 L281.8,416.5 L280.7,421.9 L274.3,424.9 L275.4,419.4 L275.3,413.9 L274.0,408.7 L271.8,404.2 L269.0,400.7Z" fill="#fff" stroke="#000" stroke-width="1.3" stroke-linejoin="round"/>
<ellipse cx="267.1" cy="395.1" rx="4.8" ry="8.0" transform="rotate(-25 267.1 395.1)" fill="#fff" stroke="#000" stroke-width="1.6" />
<path d="M262.4,406.2 L270.5,402.4 L263.8,387.9 L255.6,391.7Z" fill="#fff" stroke="none"/>
<path d="M262.4,406.2 L270.5,402.4 M263.8,387.9 L255.6,391.7" fill="none" stroke="#000" stroke-width="1.6"/>
<ellipse cx="259.0" cy="398.9" rx="4.8" ry="8.0" transform="rotate(-25 259.0 398.9)" fill="#fff" stroke="#000" stroke-width="1.6" />
<ellipse cx="259.0" cy="398.9" rx="3.5" ry="5.8" transform="rotate(-25 259.0 398.9)" fill="#fff" stroke="#000" stroke-width="1.8" />
<ellipse cx="231.3" cy="411.4" rx="2.1" ry="3.4" transform="rotate(-22 231.3 411.4)" fill="#fff" stroke="#000" stroke-width="1.2" />
<path d="M219.1,420.0 L232.5,414.6 L230.0,408.3 L216.6,413.7Z" fill="#fff" stroke="none"/>
<path d="M219.1,420.0 L232.5,414.6 M230.0,408.3 L216.6,413.7" fill="none" stroke="#000" stroke-width="1.2"/>
<ellipse cx="217.8" cy="416.9" rx="2.1" ry="3.4" transform="rotate(-22 217.8 416.9)" fill="#fff" stroke="#000" stroke-width="1.2" />
<ellipse cx="218.0" cy="416.8" rx="4.8" ry="7.8" transform="rotate(-22 218.0 416.8)" fill="#fff" stroke="#000" stroke-width="1.7" />
<path d="M218.9,424.8 L220.9,424.0 L215.1,409.6 L213.1,410.4Z" fill="#fff" stroke="none"/>
<path d="M218.9,424.8 L220.9,424.0 M215.1,409.6 L213.1,410.4" fill="none" stroke="#000" stroke-width="1.7"/>
<ellipse cx="216.0" cy="417.6" rx="4.8" ry="7.8" transform="rotate(-22 216.0 417.6)" fill="#fff" stroke="#000" stroke-width="1.7" />
<path d="M206.6,417.3 L208.9,412.2 L213.1,410.6 L218.3,412.6 L221.2,419.6 L218.8,424.7 L214.7,426.4 L209.4,424.4Z" fill="#fff" stroke="#000" stroke-width="1.6" stroke-linejoin="round"/>
<path d="M217.0,421.3 L221.2,419.6" fill="none" stroke="#000" stroke-width="1.2800000000000002"/>
<path d="M214.6,426.3 L218.8,424.7" fill="none" stroke="#000" stroke-width="1.2800000000000002"/>
<path d="M209.4,424.4 L213.6,422.7" fill="none" stroke="#000" stroke-width="1.2800000000000002"/>
<path d="M206.6,417.3 L210.8,415.6" fill="none" stroke="#000" stroke-width="1.2800000000000002"/>
<path d="M209.0,412.3 L213.1,410.6" fill="none" stroke="#000" stroke-width="1.2800000000000002"/>
<path d="M214.2,414.2 L218.3,412.6" fill="none" stroke="#000" stroke-width="1.2800000000000002"/>
<path d="M217.0,421.3 L214.6,426.3 L209.4,424.4 L206.6,417.3 L209.0,412.3 L214.2,414.2Z" fill="#fff" stroke="#000" stroke-width="1.6" stroke-linejoin="round"/>
<ellipse cx="690.6" cy="363.6" rx="3.5" ry="7.0" transform="rotate(-25.5 690.6 363.6)" fill="#fff" stroke="#000" stroke-width="1.5" />
<path d="M685.5,373.8 L693.6,369.9 L687.6,357.3 L679.5,361.2Z" fill="#fff" stroke="none"/>
<path d="M685.5,373.8 L693.6,369.9 M687.6,357.3 L679.5,361.2" fill="none" stroke="#000" stroke-width="1.5"/>
<ellipse cx="682.5" cy="367.5" rx="3.5" ry="7.0" transform="rotate(-25.5 682.5 367.5)" fill="#fff" stroke="#000" stroke-width="1.5" />
<ellipse cx="682.5" cy="367.5" rx="2.8" ry="5.5" transform="rotate(-25.5 682.5 367.5)" fill="#fff" stroke="#000" stroke-width="0.8" />
<path d="M687.0,359.0 L690.0,351.0 L697.0,348.5 L696.0,353.0 L692.0,356.0 L690.0,361.0Z" fill="#fff" stroke="#000" stroke-width="1.5" stroke-linejoin="round"/>
<path d="M692.0,371.0 L697.0,366.0 L701.0,364.5 L701.0,371.0 L696.0,375.0Z" fill="#fff" stroke="#000" stroke-width="1.5" stroke-linejoin="round"/>
<ellipse cx="616.3" cy="398.8" rx="4.1" ry="9.7" transform="rotate(-25.5 616.3 398.8)" fill="none" stroke="#000" stroke-width="1.9" />
<ellipse cx="617.4" cy="398.3" rx="4.1" ry="9.7" transform="rotate(-25.5 617.4 398.3)" fill="none" stroke="#000" stroke-width="1.9" />
<ellipse cx="619.4" cy="397.4" rx="4.1" ry="9.7" transform="rotate(-25.5 619.4 397.4)" fill="none" stroke="#000" stroke-width="1.9" />
<ellipse cx="622.1" cy="396.2" rx="4.1" ry="9.7" transform="rotate(-25.5 622.1 396.2)" fill="none" stroke="#000" stroke-width="1.9" />
<ellipse cx="625.2" cy="394.8" rx="4.1" ry="9.7" transform="rotate(-25.5 625.2 394.8)" fill="none" stroke="#000" stroke-width="1.9" />
<ellipse cx="628.7" cy="393.2" rx="4.1" ry="9.7" transform="rotate(-25.5 628.7 393.2)" fill="none" stroke="#000" stroke-width="1.9" />
<ellipse cx="632.6" cy="391.5" rx="4.1" ry="9.7" transform="rotate(-25.5 632.6 391.5)" fill="none" stroke="#000" stroke-width="1.9" />
<ellipse cx="636.9" cy="389.5" rx="4.1" ry="9.7" transform="rotate(-25.5 636.9 389.5)" fill="none" stroke="#000" stroke-width="1.9" />
<ellipse cx="641.4" cy="387.5" rx="4.1" ry="9.7" transform="rotate(-25.5 641.4 387.5)" fill="none" stroke="#000" stroke-width="1.9" />
<ellipse cx="646.3" cy="385.3" rx="4.1" ry="9.7" transform="rotate(-25.5 646.3 385.3)" fill="none" stroke="#000" stroke-width="1.9" />
<ellipse cx="651.4" cy="383.0" rx="4.1" ry="9.7" transform="rotate(-25.5 651.4 383.0)" fill="none" stroke="#000" stroke-width="1.9" />
<ellipse cx="520.6" cy="444.8" rx="5.0" ry="12.0" transform="rotate(-25.5 520.6 444.8)" fill="none" stroke="#000" stroke-width="1.9" />
<ellipse cx="520.6" cy="444.8" rx="4.3" ry="10.3" transform="rotate(-25.5 520.6 444.8)" fill="none" stroke="#000" stroke-width="0.6" />
<ellipse cx="527.0" cy="441.9" rx="5.0" ry="12.0" transform="rotate(-25.5 527.0 441.9)" fill="none" stroke="#000" stroke-width="1.9" />
<ellipse cx="527.0" cy="441.9" rx="4.3" ry="10.3" transform="rotate(-25.5 527.0 441.9)" fill="none" stroke="#000" stroke-width="0.6" />
<ellipse cx="533.3" cy="438.9" rx="5.0" ry="12.0" transform="rotate(-25.5 533.3 438.9)" fill="none" stroke="#000" stroke-width="1.9" />
<ellipse cx="533.3" cy="438.9" rx="4.3" ry="10.3" transform="rotate(-25.5 533.3 438.9)" fill="none" stroke="#000" stroke-width="0.6" />
<ellipse cx="539.7" cy="436.0" rx="5.0" ry="12.0" transform="rotate(-25.5 539.7 436.0)" fill="none" stroke="#000" stroke-width="1.9" />
<ellipse cx="539.7" cy="436.0" rx="4.3" ry="10.3" transform="rotate(-25.5 539.7 436.0)" fill="none" stroke="#000" stroke-width="0.6" />
<ellipse cx="546.0" cy="433.1" rx="5.0" ry="12.0" transform="rotate(-25.5 546.0 433.1)" fill="none" stroke="#000" stroke-width="1.9" />
<ellipse cx="546.0" cy="433.1" rx="4.3" ry="10.3" transform="rotate(-25.5 546.0 433.1)" fill="none" stroke="#000" stroke-width="0.6" />
<ellipse cx="552.4" cy="430.2" rx="5.0" ry="12.0" transform="rotate(-25.5 552.4 430.2)" fill="none" stroke="#000" stroke-width="1.9" />
<ellipse cx="552.4" cy="430.2" rx="4.3" ry="10.3" transform="rotate(-25.5 552.4 430.2)" fill="none" stroke="#000" stroke-width="0.6" />
<ellipse cx="558.8" cy="427.2" rx="5.0" ry="12.0" transform="rotate(-25.5 558.8 427.2)" fill="none" stroke="#000" stroke-width="1.9" />
<ellipse cx="558.8" cy="427.2" rx="4.3" ry="10.3" transform="rotate(-25.5 558.8 427.2)" fill="none" stroke="#000" stroke-width="0.6" />
<ellipse cx="565.1" cy="424.3" rx="5.0" ry="12.0" transform="rotate(-25.5 565.1 424.3)" fill="none" stroke="#000" stroke-width="1.9" />
<ellipse cx="565.1" cy="424.3" rx="4.3" ry="10.3" transform="rotate(-25.5 565.1 424.3)" fill="none" stroke="#000" stroke-width="0.6" />
<ellipse cx="571.5" cy="421.4" rx="5.0" ry="12.0" transform="rotate(-25.5 571.5 421.4)" fill="none" stroke="#000" stroke-width="1.9" />
<ellipse cx="571.5" cy="421.4" rx="4.3" ry="10.3" transform="rotate(-25.5 571.5 421.4)" fill="none" stroke="#000" stroke-width="0.6" />
<ellipse cx="577.8" cy="418.5" rx="5.0" ry="12.0" transform="rotate(-25.5 577.8 418.5)" fill="none" stroke="#000" stroke-width="1.9" />
<ellipse cx="577.8" cy="418.5" rx="4.3" ry="10.3" transform="rotate(-25.5 577.8 418.5)" fill="none" stroke="#000" stroke-width="0.6" />
<ellipse cx="584.2" cy="415.6" rx="5.0" ry="12.0" transform="rotate(-25.5 584.2 415.6)" fill="none" stroke="#000" stroke-width="1.9" />
<ellipse cx="584.2" cy="415.6" rx="4.3" ry="10.3" transform="rotate(-25.5 584.2 415.6)" fill="none" stroke="#000" stroke-width="0.6" />
<ellipse cx="590.5" cy="412.6" rx="5.0" ry="12.0" transform="rotate(-25.5 590.5 412.6)" fill="none" stroke="#000" stroke-width="1.9" />
<ellipse cx="590.5" cy="412.6" rx="4.3" ry="10.3" transform="rotate(-25.5 590.5 412.6)" fill="none" stroke="#000" stroke-width="0.6" />
<ellipse cx="596.9" cy="409.7" rx="5.0" ry="12.0" transform="rotate(-25.5 596.9 409.7)" fill="none" stroke="#000" stroke-width="1.9" />
<ellipse cx="596.9" cy="409.7" rx="4.3" ry="10.3" transform="rotate(-25.5 596.9 409.7)" fill="none" stroke="#000" stroke-width="0.6" />
<ellipse cx="722.6" cy="228.0" rx="2.5" ry="3.5" transform="rotate(-38.6 722.6 228.0)" fill="#fff" stroke="#000" stroke-width="1.2" />
<path d="M729.5,227.0 L724.8,230.8 L720.4,225.3 L725.1,221.6Z" fill="#fff" stroke="none"/>
<path d="M729.5,227.0 L724.8,230.8 M720.4,225.3 L725.1,221.6" fill="none" stroke="#000" stroke-width="1.2"/>
<ellipse cx="727.3" cy="224.3" rx="2.5" ry="3.5" transform="rotate(-38.6 727.3 224.3)" fill="#fff" stroke="#000" stroke-width="1.2" />
<path d="M725.9,216.2 L730.4,212.6 L734.3,209.5 L741.0,213.2 L743.2,220.6 L739.3,223.7 L734.8,227.3 L728.1,223.5Z" fill="#111" stroke="#000" stroke-width="2.2" stroke-linejoin="round"/>
<path d="M741.0,213.2 L737.1,216.3" fill="none" stroke="#000" stroke-width="1.7600000000000002"/>
<path d="M743.2,220.6 L739.3,223.7" fill="none" stroke="#000" stroke-width="1.7600000000000002"/>
<path d="M738.7,224.1 L734.8,227.3" fill="none" stroke="#000" stroke-width="1.7600000000000002"/>
<path d="M732.0,220.4 L728.1,223.5" fill="none" stroke="#000" stroke-width="1.7600000000000002"/>
<path d="M729.8,213.0 L725.9,216.2" fill="none" stroke="#000" stroke-width="1.7600000000000002"/>
<path d="M734.3,209.5 L730.4,212.6" fill="none" stroke="#000" stroke-width="1.7600000000000002"/>
<path d="M741.0,213.2 L743.2,220.6 L738.7,224.1 L732.0,220.4 L729.8,213.0 L734.3,209.5Z" fill="#fff" stroke="#000" stroke-width="2.2" stroke-linejoin="round"/>
<ellipse cx="736.5" cy="216.8" rx="3.4" ry="4.6" transform="rotate(-38.6 736.5 216.8)" fill="#fff" stroke="#000" stroke-width="1.2" />
<ellipse cx="714.5" cy="233.5" rx="10.1" ry="11.5" transform="rotate(-38.6 714.5 233.5)" fill="#fff" stroke="#000" stroke-width="1.3" />
<path d="M721.1,243.0 L721.7,242.5 L707.4,224.5 L706.7,225.0Z" fill="#fff" stroke="none"/>
<path d="M721.1,243.0 L721.7,242.5 M707.4,224.5 L706.7,225.0" fill="none" stroke="#000" stroke-width="1.3"/>
<ellipse cx="713.9" cy="234.0" rx="10.1" ry="11.5" transform="rotate(-38.6 713.9 234.0)" fill="#fff" stroke="#000" stroke-width="1.3" />
<ellipse cx="713.9" cy="234.0" rx="2.7" ry="3.2" transform="rotate(-38.6 713.9 234.0)" fill="#fff" stroke="#000" stroke-width="1.2" />
<path d="M654.3,274.5 L665.0,259.3 L672.6,251.0 L680.2,249.4 L690.8,253.2 L700.0,258.6 L709.1,263.9 L718.2,276.0 L723.5,286.7 L723.5,293.5 L719.0,298.9 L714.4,293.5 L710.6,285.2 L701.5,276.0 L690.8,273.0 L680.2,275.3 L672.6,280.6 L663.5,288.2 L657.4,286.7Z" fill="#fff" stroke="#000" stroke-width="1.8" stroke-linejoin="round"/>
<path d="M700.0,260.8 L704.0,268.0 L714.0,280.0 L720.0,292.0" fill="none" stroke="#111" stroke-width="1.0"/>
<path d="M699.0,262.0 L702.0,270.0 L712.0,283.0 L717.0,294.0" fill="none" stroke="#111" stroke-width="0.8"/>
<ellipse cx="681.9" cy="261.9" rx="4.1" ry="5.5" transform="rotate(-38.6 681.9 261.9)" fill="#fff" stroke="#000" stroke-width="1.4" />
<path d="M681.4,269.3 L685.3,266.2 L678.5,257.6 L674.6,260.7Z" fill="#fff" stroke="none"/>
<path d="M681.4,269.3 L685.3,266.2 M678.5,257.6 L674.6,260.7" fill="none" stroke="#000" stroke-width="1.4"/>
<ellipse cx="678.0" cy="265.0" rx="4.1" ry="5.5" transform="rotate(-38.6 678.0 265.0)" fill="#fff" stroke="#000" stroke-width="1.4" />
<ellipse cx="668.3" cy="276.0" rx="5.2" ry="7.5" transform="rotate(-38.6 668.3 276.0)" fill="#fff" stroke="#000" stroke-width="1.4" />
<path d="M666.7,286.9 L672.9,281.9 L663.6,270.1 L657.3,275.1Z" fill="#fff" stroke="none"/>
<path d="M666.7,286.9 L672.9,281.9 M663.6,270.1 L657.3,275.1" fill="none" stroke="#000" stroke-width="1.4"/>
<ellipse cx="662.0" cy="281.0" rx="5.2" ry="7.5" transform="rotate(-38.6 662.0 281.0)" fill="#fff" stroke="#000" stroke-width="1.4" />
<ellipse cx="714.4" cy="299.8" rx="2.8" ry="4.0" transform="rotate(-38.6 714.4 299.8)" fill="#fff" stroke="#000" stroke-width="1.3" />
<path d="M720.0,300.4 L716.9,302.9 L711.9,296.7 L715.0,294.2Z" fill="#fff" stroke="none"/>
<path d="M720.0,300.4 L716.9,302.9 M711.9,296.7 L715.0,294.2" fill="none" stroke="#000" stroke-width="1.3"/>
<ellipse cx="717.5" cy="297.3" rx="2.8" ry="4.0" transform="rotate(-38.6 717.5 297.3)" fill="#fff" stroke="#000" stroke-width="1.3" />
<ellipse cx="660.3" cy="281.6" rx="2.8" ry="4.0" transform="rotate(-38.6 660.3 281.6)" fill="#fff" stroke="#000" stroke-width="1.6" />
<path d="M660.5,286.6 L662.8,284.8 L657.8,278.5 L655.5,280.4Z" fill="#fff" stroke="none"/>
<path d="M660.5,286.6 L662.8,284.8 M657.8,278.5 L655.5,280.4" fill="none" stroke="#000" stroke-width="1.6"/>
<ellipse cx="658.0" cy="283.5" rx="2.8" ry="4.0" transform="rotate(-38.6 658.0 283.5)" fill="#fff" stroke="#000" stroke-width="1.6" />
<circle cx="651.3" cy="287.5" r="5.6" fill="#fff" stroke="#000" stroke-width="1.3"/>
<ellipse cx="623.7" cy="306.4" rx="9.4" ry="11.8" transform="rotate(-38.6 623.7 306.4)" fill="#fff" stroke="#000" stroke-width="1.6" />
<path d="M629.9,316.5 L631.0,315.6 L616.3,297.1 L615.1,298.1Z" fill="#fff" stroke="none"/>
<path d="M629.9,316.5 L631.0,315.6 M616.3,297.1 L615.1,298.1" fill="none" stroke="#000" stroke-width="1.6"/>
<ellipse cx="622.5" cy="307.3" rx="9.4" ry="11.8" transform="rotate(-38.6 622.5 307.3)" fill="#fff" stroke="#000" stroke-width="1.6" />
<ellipse cx="622.5" cy="307.3" rx="6.4" ry="8.0" transform="rotate(-38.6 622.5 307.3)" fill="#fff" stroke="#000" stroke-width="1.3" />
<ellipse cx="596.4" cy="327.4" rx="7.5" ry="10.0" transform="rotate(-38.6 596.4 327.4)" fill="#fff" stroke="#000" stroke-width="1.4" />
<path d="M608.9,330.2 L602.7,335.2 L590.2,319.6 L596.5,314.6Z" fill="#fff" stroke="none"/>
<path d="M608.9,330.2 L602.7,335.2 M590.2,319.6 L596.5,314.6" fill="none" stroke="#000" stroke-width="1.4"/>
<ellipse cx="602.7" cy="322.4" rx="7.5" ry="10.0" transform="rotate(-38.6 602.7 322.4)" fill="#fff" stroke="#000" stroke-width="1.4" />
<ellipse cx="602.7" cy="322.4" rx="5.8" ry="7.8" transform="rotate(-38.6 602.7 322.4)" fill="#fff" stroke="#000" stroke-width="2.2" />
<ellipse cx="602.7" cy="322.4" rx="4.1" ry="5.5" transform="rotate(-38.6 602.7 322.4)" fill="#fff" stroke="#000" stroke-width="1.2" />
<ellipse cx="602.7" cy="322.4" rx="2.1" ry="2.8" transform="rotate(-38.6 602.7 322.4)" fill="#fff" stroke="#000" stroke-width="1.0" />
<path d="M604.5,321.0 L606.5,319.4" fill="none" stroke="#111" stroke-width="1.8"/>
<path d="M605.2,323.7 L608.1,325.3" fill="none" stroke="#111" stroke-width="1.8"/>
<path d="M603.4,325.1 L604.3,328.3" fill="none" stroke="#111" stroke-width="1.8"/>
<path d="M600.9,323.8 L598.9,325.4" fill="none" stroke="#111" stroke-width="1.8"/>
<path d="M600.2,321.1 L597.3,319.5" fill="none" stroke="#111" stroke-width="1.8"/>
<path d="M602.0,319.7 L601.1,316.5" fill="none" stroke="#111" stroke-width="1.8"/>
<ellipse cx="576.6" cy="345.3" rx="7.5" ry="10.0" transform="rotate(-38.6 576.6 345.3)" fill="#fff" stroke="#000" stroke-width="1.4" />
<path d="M589.1,348.1 L582.9,353.1 L570.4,337.5 L576.7,332.5Z" fill="#fff" stroke="none"/>
<path d="M589.1,348.1 L582.9,353.1 M570.4,337.5 L576.7,332.5" fill="none" stroke="#000" stroke-width="1.4"/>
<ellipse cx="582.9" cy="340.3" rx="7.5" ry="10.0" transform="rotate(-38.6 582.9 340.3)" fill="#fff" stroke="#000" stroke-width="1.4" />
<ellipse cx="582.9" cy="340.3" rx="5.8" ry="7.8" transform="rotate(-38.6 582.9 340.3)" fill="#fff" stroke="#000" stroke-width="2.2" />
<ellipse cx="582.9" cy="340.3" rx="4.1" ry="5.5" transform="rotate(-38.6 582.9 340.3)" fill="#fff" stroke="#000" stroke-width="1.2" />
<ellipse cx="582.9" cy="340.3" rx="2.1" ry="2.8" transform="rotate(-38.6 582.9 340.3)" fill="#fff" stroke="#000" stroke-width="1.0" />
<path d="M584.7,338.9 L586.7,337.3" fill="none" stroke="#111" stroke-width="1.8"/>
<path d="M585.4,341.6 L588.3,343.2" fill="none" stroke="#111" stroke-width="1.8"/>
<path d="M583.6,343.0 L584.5,346.2" fill="none" stroke="#111" stroke-width="1.8"/>
<path d="M581.1,341.7 L579.1,343.3" fill="none" stroke="#111" stroke-width="1.8"/>
<path d="M580.4,339.0 L577.5,337.4" fill="none" stroke="#111" stroke-width="1.8"/>
<path d="M582.2,337.6 L581.3,334.4" fill="none" stroke="#111" stroke-width="1.8"/>
<ellipse cx="559.6" cy="357.3" rx="9.4" ry="11.8" transform="rotate(-38.6 559.6 357.3)" fill="#fff" stroke="#000" stroke-width="1.6" />
<path d="M565.8,367.4 L566.9,366.5 L552.2,348.0 L551.0,349.0Z" fill="#fff" stroke="none"/>
<path d="M565.8,367.4 L566.9,366.5 M552.2,348.0 L551.0,349.0" fill="none" stroke="#000" stroke-width="1.6"/>
<ellipse cx="558.4" cy="358.2" rx="9.4" ry="11.8" transform="rotate(-38.6 558.4 358.2)" fill="#fff" stroke="#000" stroke-width="1.6" />
<ellipse cx="558.4" cy="358.2" rx="6.4" ry="8.0" transform="rotate(-38.6 558.4 358.2)" fill="#fff" stroke="#000" stroke-width="1.3" />
<path d="M505.0,378.0 L506.0,375.0 L511.0,372.0 L518.0,374.0 L526.0,374.0 L524.0,382.0 L521.0,391.0 L517.0,389.0 L513.0,383.0 L508.0,382.0Z" fill="#fff" stroke="#000" stroke-width="1.3" stroke-linejoin="round"/>
<ellipse cx="528.0" cy="382.9" rx="5.3" ry="7.4" transform="rotate(-38.6 528.0 382.9)" fill="#fff" stroke="#000" stroke-width="1.6" />
<path d="M545.9,378.1 L532.6,388.7 L523.4,377.1 L536.7,366.5Z" fill="#fff" stroke="none"/>
<path d="M545.9,378.1 L532.6,388.7 M523.4,377.1 L536.7,366.5" fill="none" stroke="#000" stroke-width="1.6"/>
<ellipse cx="541.3" cy="372.3" rx="5.3" ry="7.4" transform="rotate(-38.6 541.3 372.3)" fill="#fff" stroke="#000" stroke-width="1.6" />
<ellipse cx="541.3" cy="372.3" rx="3.6" ry="5.0" transform="rotate(-38.6 541.3 372.3)" fill="#fff" stroke="#000" stroke-width="1.0" />
<ellipse cx="541.3" cy="372.3" rx="1.8" ry="2.5" transform="rotate(-38.6 541.3 372.3)" fill="#fff" stroke="#000" stroke-width="1.0" />
<ellipse cx="506.5" cy="377.5" rx="2" ry="3" fill="#fff" stroke="#000" stroke-width="1"/>
<ellipse cx="138.4" cy="547.8" rx="1.3" ry="2.6" transform="rotate(59.1 138.4 547.8)" fill="#fff" stroke="#000" stroke-width="1.1" />
<path d="M93.0,477.0 L136.2,549.1 L140.6,546.4 L97.5,474.3Z" fill="#fff" stroke="none"/>
<path d="M93.0,477.0 L136.2,549.1 M140.6,546.4 L97.5,474.3" fill="none" stroke="#000" stroke-width="1.1"/>
<ellipse cx="95.3" cy="475.7" rx="1.3" ry="2.6" transform="rotate(59.1 95.3 475.7)" fill="#fff" stroke="#000" stroke-width="1.1" />
<path d="M91.7,477.8 L134.8,549.9" fill="none" stroke="#111" stroke-width="0.8"/>
<ellipse cx="91.7" cy="469.7" rx="2.6" ry="5.3" transform="rotate(59.1 91.7 469.7)" fill="#fff" stroke="#000" stroke-width="1.2" />
<path d="M73.8,450.1 L87.1,472.4 L96.2,467.0 L82.9,444.6Z" fill="#fff" stroke="none"/>
<path d="M73.8,450.1 L87.1,472.4 M96.2,467.0 L82.9,444.6" fill="none" stroke="#000" stroke-width="1.2"/>
<ellipse cx="78.3" cy="447.4" rx="2.6" ry="5.3" transform="rotate(59.1 78.3 447.4)" fill="#fff" stroke="#000" stroke-width="1.2" />
<ellipse cx="95.0" cy="475.3" rx="3.5" ry="7.0" transform="rotate(59.1 95.0 475.3)" fill="#fff" stroke="#000" stroke-width="1.4" />
<path d="M85.7,473.3 L89.0,478.8 L101.0,471.7 L97.7,466.1Z" fill="#fff" stroke="none"/>
<path d="M85.7,473.3 L89.0,478.8 M101.0,471.7 L97.7,466.1" fill="none" stroke="#000" stroke-width="1.4"/>
<ellipse cx="91.7" cy="469.7" rx="3.5" ry="7.0" transform="rotate(59.1 91.7 469.7)" fill="#fff" stroke="#000" stroke-width="1.4" />
<path d="M94.1,468.8 L96.9,473.5" fill="none" stroke="#111" stroke-width="0.9"/>
<path d="M89.8,471.4 L92.6,476.1" fill="none" stroke="#111" stroke-width="0.9"/>
<ellipse cx="141.7" cy="553.3" rx="3.5" ry="7.0" transform="rotate(59.1 141.7 553.3)" fill="#fff" stroke="#000" stroke-width="1.4" />
<path d="M132.4,551.4 L135.7,556.9 L147.7,549.7 L144.4,544.2Z" fill="#fff" stroke="none"/>
<path d="M132.4,551.4 L135.7,556.9 M147.7,549.7 L144.4,544.2" fill="none" stroke="#000" stroke-width="1.4"/>
<ellipse cx="138.4" cy="547.8" rx="3.5" ry="7.0" transform="rotate(59.1 138.4 547.8)" fill="#fff" stroke="#000" stroke-width="1.4" />
<path d="M140.8,546.9 L143.6,551.6" fill="none" stroke="#111" stroke-width="0.9"/>
<path d="M136.5,549.5 L139.3,554.2" fill="none" stroke="#111" stroke-width="0.9"/>
<ellipse cx="153.0" cy="572.2" rx="2.6" ry="5.3" transform="rotate(59.1 153.0 572.2)" fill="#fff" stroke="#000" stroke-width="1.2" />
<path d="M137.2,556.1 L148.5,574.9 L157.6,569.5 L146.3,550.6Z" fill="#fff" stroke="none"/>
<path d="M137.2,556.1 L148.5,574.9 M157.6,569.5 L146.3,550.6" fill="none" stroke="#000" stroke-width="1.2"/>
<ellipse cx="141.7" cy="553.3" rx="2.6" ry="5.3" transform="rotate(59.1 141.7 553.3)" fill="#fff" stroke="#000" stroke-width="1.2" />
<path d="M146.3,550.6 L155.8,566.5" fill="none" stroke="#111" stroke-width="1.2"/>
<circle cx="74.2" cy="440.5" r="10.2" fill="#fff" stroke="#000" stroke-width="1.3"/>
<ellipse cx="78.6" cy="447.8" rx="2.8" ry="5.5" transform="rotate(59.1 78.6 447.8)" fill="none" stroke="#000" stroke-width="1.1" />
<circle cx="156.8" cy="578.6" r="9.8" fill="#fff" stroke="#000" stroke-width="1.3"/>
<ellipse cx="152.3" cy="570.9" rx="2.8" ry="5.5" transform="rotate(59.1 152.3 570.9)" fill="none" stroke="#000" stroke-width="1.1" />
<path d="M51.5,444.3 L58.9,454.4" fill="none" stroke="#111" stroke-width="1.1"/>
<ellipse cx="56" cy="458.5" rx="5" ry="2.3" transform="rotate(-20 56 458.5)" fill="none" stroke="#000" stroke-width="1.6"/>
<ellipse cx="57" cy="456.5" rx="3.5" ry="1.6" transform="rotate(-20 57 456.5)" fill="none" stroke="#000" stroke-width="1.3"/>
<path d="M133,578 L138,577 L145,592" fill="none" stroke="#000" stroke-width="1.5"/>
<ellipse cx="128.5" cy="582.5" rx="5" ry="2.3" transform="rotate(-20 128.5 582.5)" fill="none" stroke="#000" stroke-width="1.6"/>
<ellipse cx="130" cy="580.5" rx="3.5" ry="1.6" transform="rotate(-20 130 580.5)" fill="none" stroke="#000" stroke-width="1.3"/>
<path d="M25.8,352.0 L8.0,396.0" fill="none" stroke="#111" stroke-width="0.8"/>
<path d="M43.6,345.0 L43.6,371.7" fill="none" stroke="#111" stroke-width="0.8"/>
<path d="M63.0,338.6 L76.0,354.0" fill="none" stroke="#111" stroke-width="0.8"/>
<path d="M115.0,311.2 L110.2,338.7" fill="none" stroke="#111" stroke-width="0.8"/>
<path d="M132.8,304.7 L138.5,329.8" fill="none" stroke="#111" stroke-width="0.8"/>
<path d="M148.2,297.5 L152.2,309.6" fill="none" stroke="#111" stroke-width="0.8"/>
<path d="M165.9,287.8 L193.4,302.3" fill="none" stroke="#111" stroke-width="0.8"/>
<path d="M232.0,256.0 L221.0,282.0" fill="none" stroke="#111" stroke-width="0.8"/>
<path d="M240.0,256.0 L250.0,268.0" fill="none" stroke="#111" stroke-width="0.8"/>
<path d="M259.0,244.0 L300.0,252.0" fill="none" stroke="#111" stroke-width="0.8"/>
<path d="M358.0,199.0 L371.0,213.0" fill="none" stroke="#111" stroke-width="0.8"/>
<path d="M458.5,152.2 L467.4,175.9" fill="none" stroke="#111" stroke-width="0.8"/>
<path d="M463.0,150.7 L488.1,172.9" fill="none" stroke="#111" stroke-width="0.8"/>
<path d="M525.1,122.6 L533.4,136.4" fill="none" stroke="#111" stroke-width="0.8"/>
<path d="M577.0,94.0 L581.4,113.7" fill="none" stroke="#111" stroke-width="0.8"/>
<path d="M587.0,92.0 L606.6,103.3" fill="none" stroke="#111" stroke-width="0.8"/>
<path d="M441.5,262.4 L434.0,294.7" fill="none" stroke="#111" stroke-width="0.8"/>
<path d="M457.7,262.4 L453.4,285.0" fill="none" stroke="#111" stroke-width="0.8"/>
<path d="M476.4,262.4 L485.7,279.7" fill="none" stroke="#111" stroke-width="0.8"/>
<path d="M495.4,262.4 L506.1,270.0" fill="none" stroke="#111" stroke-width="0.8"/>
<path d="M555.7,228.0 L549.2,245.2" fill="none" stroke="#111" stroke-width="0.8"/>
<path d="M447.2,366.9 L441.1,355.8" fill="none" stroke="#111" stroke-width="0.8"/>
<path d="M304.9,388.0 L318.0,400.0" fill="none" stroke="#111" stroke-width="0.8"/>
<path d="M240.2,438.0 L222.5,421.9" fill="none" stroke="#111" stroke-width="0.8"/>
<path d="M260.4,429.2 L264.5,417.9" fill="none" stroke="#111" stroke-width="0.8"/>
<path d="M676.4,226.6 L679.4,249.4" fill="none" stroke="#111" stroke-width="0.8"/>
<path d="M692.4,216.0 L704.5,228.1" fill="none" stroke="#111" stroke-width="0.8"/>
<path d="M706.0,203.0 L727.3,216.0" fill="none" stroke="#111" stroke-width="0.8"/>
<path d="M598.9,297.0 L612.1,299.8" fill="none" stroke="#111" stroke-width="0.8"/>
<path d="M586.7,308.3 L598.9,314.9" fill="none" stroke="#111" stroke-width="0.8"/>
<path d="M579.1,312.0 L576.3,330.9" fill="none" stroke="#111" stroke-width="0.8"/>
<path d="M542.4,344.0 L550.9,349.7" fill="none" stroke="#111" stroke-width="0.8"/>
<path d="M527.3,355.4 L531.1,368.6" fill="none" stroke="#111" stroke-width="0.8"/>
<path d="M687.5,392.0 L691.9,373.2" fill="none" stroke="#111" stroke-width="0.8"/>
<path d="M647.8,409.7 L636.9,401.2" fill="none" stroke="#111" stroke-width="0.8"/>
<path d="M586.0,443.6 L573.9,435.1" fill="none" stroke="#111" stroke-width="0.8"/>
<path d="M54.0,471.0 L57.0,461.0" fill="none" stroke="#111" stroke-width="0.8"/>
<path d="M58.0,534.0 L70.0,528.0" fill="none" stroke="#111" stroke-width="0.8"/>
<path d="M118.0,578.0 L125.0,582.0" fill="none" stroke="#111" stroke-width="0.8"/>
<path d="M28.6,337.0 L28.6,270.1 L124.4,270.1" fill="none" stroke="#111" stroke-width="0.9"/>
<path d="M148.1,474.3 L243.6,474.3 L243.6,450.0" fill="none" stroke="#111" stroke-width="0.9"/>
<path d="M603.9,179.5 L699.4,179.5 L699.4,192.0" fill="none" stroke="#111" stroke-width="0.9"/>
<text x="74.4" y="268.0" font-size="8.3" text-anchor="middle" font-weight="normal" stroke="#000" stroke-width="0.2">FRENAFILETTI</text>
<text x="73.5" y="278.7" font-size="8.3" text-anchor="middle" font-weight="normal" stroke="#000" stroke-width="0.2">MEDIA RESISTENZA</text>
<text x="194.4" y="472.3" font-size="8.3" text-anchor="middle" font-weight="normal" stroke="#000" stroke-width="0.2">FRENAFILETTI</text>
<text x="192.9" y="482.9" font-size="8.3" text-anchor="middle" font-weight="normal" stroke="#000" stroke-width="0.2">MEDIA RESISTENZA</text>
<text x="649.8" y="177.5" font-size="8.3" text-anchor="middle" font-weight="normal" stroke="#000" stroke-width="0.2">FRENAFILETTI</text>
<text x="648.3" y="188.1" font-size="8.3" text-anchor="middle" font-weight="normal" stroke="#000" stroke-width="0.2">MEDIA RESISTENZA</text>
<text x="368.2" y="659.9" font-size="12.2" text-anchor="middle" font-weight="normal" stroke="#000" stroke-width="0.4">© Copyright 2024 Betamotor S.p.A.</text>
<circle cx="28.6" cy="344.3" r="7.3" fill="#fff" stroke="#333" stroke-width="0.9"/>
<text x="28.6" y="347.9" font-size="9.6" text-anchor="middle" stroke="#000" stroke-width="0.35">21</text>
<circle cx="43.6" cy="337.4" r="7.3" fill="#fff" stroke="#333" stroke-width="0.9"/>
<text x="43.6" y="340.9" font-size="9.6" text-anchor="middle" stroke="#000" stroke-width="0.35">22</text>
<circle cx="58.5" cy="331.6" r="7.3" fill="#fff" stroke="#333" stroke-width="0.9"/>
<text x="58.5" y="335.2" font-size="9.6" text-anchor="middle" stroke="#000" stroke-width="0.35">23</text>
<circle cx="115.8" cy="304.7" r="7.3" fill="#fff" stroke="#333" stroke-width="0.9"/>
<text x="115.8" y="308.2" font-size="9.6" text-anchor="middle" stroke="#000" stroke-width="0.35">24</text>
<circle cx="130.4" cy="297.5" r="7.3" fill="#fff" stroke="#333" stroke-width="0.9"/>
<text x="130.4" y="301.1" font-size="9.6" text-anchor="middle" stroke="#000" stroke-width="0.35">25</text>
<circle cx="144.9" cy="290.2" r="7.3" fill="#fff" stroke="#333" stroke-width="0.9"/>
<text x="144.9" y="293.8" font-size="9.6" text-anchor="middle" stroke="#000" stroke-width="0.35">26</text>
<circle cx="159.5" cy="283.7" r="7.3" fill="#fff" stroke="#333" stroke-width="0.9"/>
<text x="159.5" y="287.2" font-size="9.6" text-anchor="middle" stroke="#000" stroke-width="0.35">33</text>
<circle cx="236.0" cy="249.0" r="7.3" fill="#fff" stroke="#333" stroke-width="0.9"/>
<text x="236.0" y="252.6" font-size="9.6" text-anchor="middle" stroke="#000" stroke-width="0.35">28</text>
<circle cx="252.0" cy="241.9" r="7.3" fill="#fff" stroke="#333" stroke-width="0.9"/>
<text x="252.0" y="245.5" font-size="9.6" text-anchor="middle" stroke="#000" stroke-width="0.35">29</text>
<circle cx="355.0" cy="192.8" r="7.3" fill="#fff" stroke="#333" stroke-width="0.9"/>
<text x="355.0" y="196.4" font-size="9.6" text-anchor="middle" stroke="#000" stroke-width="0.35">30</text>
<circle cx="454.9" cy="146.3" r="7.3" fill="#fff" stroke="#333" stroke-width="0.9"/>
<text x="454.9" y="149.9" font-size="9.6" text-anchor="middle" stroke="#000" stroke-width="0.35">13</text>
<circle cx="519.2" cy="116.1" r="7.3" fill="#fff" stroke="#333" stroke-width="0.9"/>
<text x="519.2" y="119.6" font-size="9.6" text-anchor="middle" stroke="#000" stroke-width="0.35">14</text>
<circle cx="581.0" cy="86.6" r="7.3" fill="#fff" stroke="#333" stroke-width="0.9"/>
<text x="581.0" y="90.1" font-size="9.6" text-anchor="middle" stroke="#000" stroke-width="0.35">28</text>
<circle cx="442.6" cy="255.3" r="7.3" fill="#fff" stroke="#333" stroke-width="0.9"/>
<text x="442.6" y="258.9" font-size="9.6" text-anchor="middle" stroke="#000" stroke-width="0.35">16</text>
<circle cx="458.8" cy="255.3" r="7.3" fill="#fff" stroke="#333" stroke-width="0.9"/>
<text x="458.8" y="258.9" font-size="9.6" text-anchor="middle" stroke="#000" stroke-width="0.35">17</text>
<circle cx="474.3" cy="255.3" r="7.3" fill="#fff" stroke="#333" stroke-width="0.9"/>
<text x="474.3" y="258.9" font-size="9.6" text-anchor="middle" stroke="#000" stroke-width="0.35">18</text>
<circle cx="489.3" cy="255.3" r="7.3" fill="#fff" stroke="#333" stroke-width="0.9"/>
<text x="489.3" y="258.9" font-size="9.6" text-anchor="middle" stroke="#000" stroke-width="0.35">19</text>
<circle cx="560.0" cy="220.2" r="7.3" fill="#fff" stroke="#333" stroke-width="0.9"/>
<text x="560.0" y="223.8" font-size="9.6" text-anchor="middle" stroke="#000" stroke-width="0.35">32</text>
<circle cx="450.5" cy="371.8" r="7.3" fill="#fff" stroke="#333" stroke-width="0.9"/>
<text x="450.5" y="375.4" font-size="9.6" text-anchor="middle" stroke="#000" stroke-width="0.35">15</text>
<circle cx="322.4" cy="406.6" r="7.3" fill="#fff" stroke="#333" stroke-width="0.9"/>
<text x="322.4" y="410.2" font-size="9.6" text-anchor="middle" stroke="#000" stroke-width="0.35">12</text>
<circle cx="243.7" cy="442.7" r="7.3" fill="#fff" stroke="#333" stroke-width="0.9"/>
<text x="243.7" y="446.2" font-size="9.6" text-anchor="middle" stroke="#000" stroke-width="0.35">3</text>
<circle cx="259.0" cy="436.2" r="7.3" fill="#fff" stroke="#333" stroke-width="0.9"/>
<text x="259.0" y="439.8" font-size="9.6" text-anchor="middle" stroke="#000" stroke-width="0.35">11</text>
<circle cx="674.0" cy="219.5" r="7.3" fill="#fff" stroke="#333" stroke-width="0.9"/>
<text x="674.0" y="223.1" font-size="9.6" text-anchor="middle" stroke="#000" stroke-width="0.35">1</text>
<circle cx="686.4" cy="209.4" r="7.3" fill="#fff" stroke="#333" stroke-width="0.9"/>
<text x="686.4" y="213.0" font-size="9.6" text-anchor="middle" stroke="#000" stroke-width="0.35">2</text>
<circle cx="699.0" cy="199.5" r="7.3" fill="#fff" stroke="#333" stroke-width="0.9"/>
<text x="699.0" y="203.1" font-size="9.6" text-anchor="middle" stroke="#000" stroke-width="0.35">3</text>
<circle cx="592.3" cy="294.2" r="7.3" fill="#fff" stroke="#333" stroke-width="0.9"/>
<text x="592.3" y="297.8" font-size="9.6" text-anchor="middle" stroke="#000" stroke-width="0.35">8</text>
<circle cx="579.4" cy="304.2" r="7.3" fill="#fff" stroke="#333" stroke-width="0.9"/>
<text x="579.4" y="307.8" font-size="9.6" text-anchor="middle" stroke="#000" stroke-width="0.35">9</text>
<circle cx="536.2" cy="338.7" r="7.3" fill="#fff" stroke="#333" stroke-width="0.9"/>
<text x="536.2" y="342.2" font-size="9.6" text-anchor="middle" stroke="#000" stroke-width="0.35">8</text>
<circle cx="523.3" cy="348.6" r="7.3" fill="#fff" stroke="#333" stroke-width="0.9"/>
<text x="523.3" y="352.2" font-size="9.6" text-anchor="middle" stroke="#000" stroke-width="0.35">10</text>
<circle cx="687.0" cy="399.5" r="7.3" fill="#fff" stroke="#333" stroke-width="0.9"/>
<text x="687.0" y="403.1" font-size="9.6" text-anchor="middle" stroke="#000" stroke-width="0.35">5</text>
<circle cx="653.5" cy="415.2" r="7.3" fill="#fff" stroke="#333" stroke-width="0.9"/>
<text x="653.5" y="418.8" font-size="9.6" text-anchor="middle" stroke="#000" stroke-width="0.35">6</text>
<circle cx="590.6" cy="448.3" r="7.3" fill="#fff" stroke="#333" stroke-width="0.9"/>
<text x="590.6" y="451.9" font-size="9.6" text-anchor="middle" stroke="#000" stroke-width="0.35">7</text>
<circle cx="52.7" cy="478.5" r="7.3" fill="#fff" stroke="#333" stroke-width="0.9"/>
<text x="52.7" y="482.1" font-size="9.6" text-anchor="middle" stroke="#000" stroke-width="0.35">31</text>
<circle cx="53.8" cy="538.0" r="7.3" fill="#fff" stroke="#333" stroke-width="0.9"/>
<text x="53.8" y="541.5" font-size="9.6" text-anchor="middle" stroke="#000" stroke-width="0.35">4</text>
<circle cx="110.9" cy="575.2" r="7.3" fill="#fff" stroke="#333" stroke-width="0.9"/>
<text x="110.9" y="578.8" font-size="9.6" text-anchor="middle" stroke="#000" stroke-width="0.35">31</text>
</svg>
</body></html>
